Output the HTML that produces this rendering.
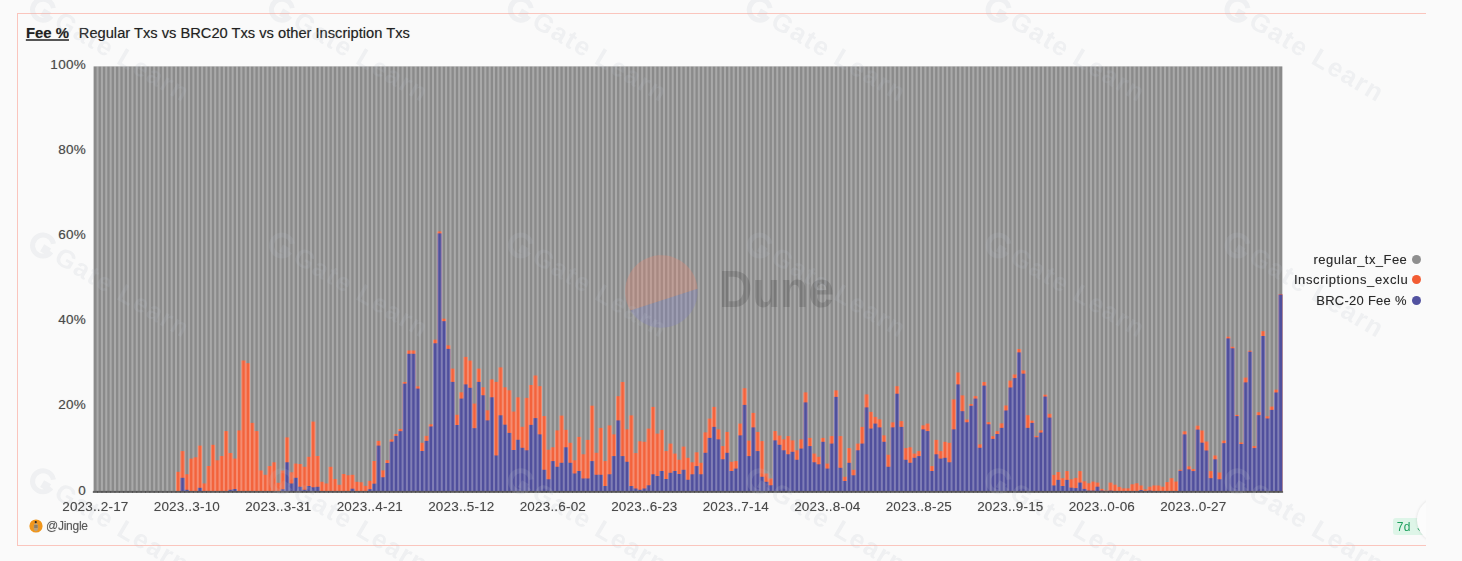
<!DOCTYPE html>
<html><head><meta charset="utf-8">
<style>
*{margin:0;padding:0;box-sizing:border-box}
html,body{width:1462px;height:561px;overflow:hidden;background:#fafafa}
body{position:relative;font-family:"Liberation Sans",sans-serif;color:#333}
.t1,.t2,.yl,.xl,.lg,.jg{text-shadow:0 0 0.8px rgba(40,40,40,0.35)}
.bt{position:absolute;left:17.1px;top:12.8px;width:1408.5px;height:1px;background:#fac5bd}
.bb{position:absolute;left:17.1px;top:545px;width:1408.5px;height:1px;background:#fac5bd}
.bl{position:absolute;left:17.1px;top:12.8px;width:1px;height:533px;background:#fac5bd}
.t1{position:absolute;left:25.9px;top:25.7px;font-size:14.9px;line-height:15px;font-weight:bold;color:#222;white-space:nowrap;text-decoration:underline;text-decoration-thickness:1.5px;text-underline-offset:1px;text-decoration-color:#555}
.t2{position:absolute;left:78.8px;top:25.7px;font-size:14.68px;line-height:15px;color:#222;white-space:nowrap}
.yl{position:absolute;left:0;width:86.1px;text-align:right;font-size:13.5px;line-height:14px;color:#4a4a4a;letter-spacing:0.3px;white-space:nowrap}
.xl{position:absolute;top:499.8px;width:100px;text-align:center;font-size:13.5px;line-height:14px;color:#4a4a4a;letter-spacing:0.18px;white-space:nowrap}
.lg{position:absolute;width:300px;text-align:right;font-size:13px;line-height:13px;color:#2a2a2a;white-space:nowrap}
.dot{position:absolute;width:9.6px;height:9.6px;border-radius:50%}
svg{position:absolute;left:0;top:0}
</style></head><body>
<div class="bt"></div><div class="bb"></div><div class="bl"></div>
<div class="t1">Fee %</div>
<div class="t2">Regular Txs vs BRC20 Txs vs other Inscription Txs</div>
<div class="yl" style="top:58px">100%</div>
<div class="yl" style="top:143.1px">80%</div>
<div class="yl" style="top:228.2px">60%</div>
<div class="yl" style="top:313.3px">40%</div>
<div class="yl" style="top:398.4px">20%</div>
<div class="yl" style="top:483.5px">0</div>
<svg width="1462" height="561" viewBox="0 0 1462 561">
<defs><filter id="bl" x="-1%" y="-1%" width="102%" height="102%"><feGaussianBlur stdDeviation="0.65"/></filter></defs>
<rect x="93.6" y="66.4" width="1188.76" height="425.2" fill="#8a8a8a"/>
<g fill="#f3633c"><rect x="175.98" y="471.8" width="4.36" height="19.8"/><rect x="179.74" y="471.8" width="1.2" height="19.8"/><rect x="180.34" y="451.1" width="4.36" height="40.5"/><rect x="184.1" y="474.3" width="1.2" height="17.3"/><rect x="184.7" y="474.3" width="4.36" height="17.3"/><rect x="188.45" y="474.3" width="1.2" height="17.3"/><rect x="189.05" y="458.6" width="4.36" height="33"/><rect x="192.81" y="458.6" width="1.2" height="33"/><rect x="193.41" y="457.3" width="4.36" height="34.3"/><rect x="197.17" y="457.3" width="1.2" height="34.3"/><rect x="197.77" y="445.6" width="4.36" height="46"/><rect x="201.53" y="483.5" width="1.2" height="8.1"/><rect x="202.12" y="483.5" width="4.36" height="8.1"/><rect x="205.88" y="483.5" width="1.2" height="8.1"/><rect x="206.48" y="466" width="4.36" height="25.6"/><rect x="210.24" y="466" width="1.2" height="25.6"/><rect x="210.84" y="444.8" width="4.36" height="46.8"/><rect x="214.6" y="460.3" width="1.2" height="31.3"/><rect x="215.2" y="460.3" width="4.36" height="31.3"/><rect x="218.95" y="460.3" width="1.2" height="31.3"/><rect x="219.55" y="456" width="4.36" height="35.6"/><rect x="223.31" y="456" width="1.2" height="35.6"/><rect x="223.91" y="431.1" width="4.36" height="60.5"/><rect x="227.67" y="453" width="1.2" height="38.6"/><rect x="228.27" y="453" width="4.36" height="38.6"/><rect x="232.02" y="458.6" width="1.2" height="33"/><rect x="232.62" y="458.6" width="4.36" height="33"/><rect x="236.38" y="458.6" width="1.2" height="33"/><rect x="236.98" y="430.4" width="4.36" height="61.2"/><rect x="240.74" y="430.4" width="1.2" height="61.2"/><rect x="241.34" y="360.5" width="4.36" height="131.1"/><rect x="245.09" y="363.2" width="1.2" height="128.4"/><rect x="245.69" y="363.2" width="4.36" height="128.4"/><rect x="249.45" y="422.9" width="1.2" height="68.7"/><rect x="250.05" y="422.9" width="4.36" height="68.7"/><rect x="253.81" y="431.1" width="1.2" height="60.5"/><rect x="254.41" y="431.1" width="4.36" height="60.5"/><rect x="258.17" y="470.5" width="1.2" height="21.1"/><rect x="258.77" y="470.5" width="4.36" height="21.1"/><rect x="262.52" y="474.8" width="1.2" height="16.8"/><rect x="263.12" y="474.8" width="4.36" height="16.8"/><rect x="266.88" y="474.8" width="1.2" height="16.8"/><rect x="267.48" y="466.1" width="4.36" height="25.5"/><rect x="271.24" y="466.1" width="1.2" height="25.5"/><rect x="271.84" y="462.3" width="4.36" height="29.3"/><rect x="275.59" y="482.8" width="1.2" height="8.8"/><rect x="276.19" y="482.8" width="4.36" height="8.8"/><rect x="279.95" y="482.8" width="1.2" height="8.8"/><rect x="280.55" y="470.5" width="4.36" height="21.1"/><rect x="284.31" y="470.5" width="1.2" height="21.1"/><rect x="284.91" y="437.4" width="4.36" height="54.2"/><rect x="288.66" y="472.3" width="1.2" height="19.3"/><rect x="289.26" y="472.3" width="4.36" height="19.3"/><rect x="293.02" y="472.3" width="1.2" height="19.3"/><rect x="293.62" y="463.6" width="4.36" height="28"/><rect x="297.38" y="464" width="1.2" height="27.6"/><rect x="297.98" y="464" width="4.36" height="27.6"/><rect x="301.74" y="466.8" width="1.2" height="24.8"/><rect x="302.34" y="466.8" width="4.36" height="24.8"/><rect x="306.09" y="466.8" width="1.2" height="24.8"/><rect x="306.69" y="456.8" width="4.36" height="34.8"/><rect x="310.45" y="456.8" width="1.2" height="34.8"/><rect x="311.05" y="421.6" width="4.36" height="70"/><rect x="314.81" y="456" width="1.2" height="35.6"/><rect x="315.41" y="456" width="4.36" height="35.6"/><rect x="319.16" y="481.8" width="1.2" height="9.8"/><rect x="319.76" y="481.8" width="4.36" height="9.8"/><rect x="323.52" y="483.5" width="1.2" height="8.1"/><rect x="324.12" y="483.5" width="4.36" height="8.1"/><rect x="327.88" y="483.5" width="1.2" height="8.1"/><rect x="328.48" y="466.8" width="4.36" height="24.8"/><rect x="332.24" y="479" width="1.2" height="12.6"/><rect x="332.84" y="479" width="4.36" height="12.6"/><rect x="336.59" y="484.8" width="1.2" height="6.8"/><rect x="337.19" y="484.8" width="4.36" height="6.8"/><rect x="340.95" y="484.8" width="1.2" height="6.8"/><rect x="341.55" y="474" width="4.36" height="17.6"/><rect x="345.31" y="475.3" width="1.2" height="16.3"/><rect x="345.91" y="475.3" width="4.36" height="16.3"/><rect x="349.66" y="475.3" width="1.2" height="16.3"/><rect x="350.26" y="474.8" width="4.36" height="16.8"/><rect x="354.02" y="481.8" width="1.2" height="9.8"/><rect x="354.62" y="481.8" width="4.36" height="9.8"/><rect x="358.38" y="482.3" width="1.2" height="9.3"/><rect x="358.98" y="482.3" width="4.36" height="9.3"/><rect x="362.73" y="485.9" width="1.2" height="5.7"/><rect x="363.33" y="485.9" width="4.36" height="5.7"/><rect x="367.09" y="485.9" width="1.2" height="5.7"/><rect x="367.69" y="480.9" width="4.36" height="10.7"/><rect x="371.45" y="480.9" width="1.2" height="10.7"/><rect x="372.05" y="461" width="4.36" height="30.6"/><rect x="375.81" y="461" width="1.2" height="30.6"/><rect x="376.41" y="440.9" width="4.36" height="50.7"/><rect x="380.16" y="470.4" width="1.2" height="21.2"/><rect x="380.76" y="470.4" width="4.36" height="21.2"/><rect x="384.52" y="470.4" width="1.2" height="21.2"/><rect x="385.12" y="460.2" width="4.36" height="31.4"/><rect x="388.88" y="460.2" width="1.2" height="31.4"/><rect x="389.48" y="439.5" width="4.36" height="52.1"/><rect x="393.23" y="439.5" width="1.2" height="52.1"/><rect x="393.83" y="434" width="4.36" height="57.6"/><rect x="397.59" y="434" width="1.2" height="57.6"/><rect x="398.19" y="429" width="4.36" height="62.6"/><rect x="401.95" y="429" width="1.2" height="62.6"/><rect x="402.55" y="382" width="4.36" height="109.6"/><rect x="406.3" y="382" width="1.2" height="109.6"/><rect x="406.9" y="350.5" width="4.36" height="141.1"/><rect x="410.66" y="350.5" width="1.2" height="141.1"/><rect x="411.26" y="350.5" width="4.36" height="141.1"/><rect x="415.02" y="386.4" width="1.2" height="105.2"/><rect x="415.62" y="386.4" width="4.36" height="105.2"/><rect x="419.38" y="442.8" width="1.2" height="48.8"/><rect x="419.98" y="442.8" width="4.36" height="48.8"/><rect x="423.73" y="442.8" width="1.2" height="48.8"/><rect x="424.33" y="435.9" width="4.36" height="55.7"/><rect x="428.09" y="435.9" width="1.2" height="55.7"/><rect x="428.69" y="424.3" width="4.36" height="67.3"/><rect x="432.45" y="424.3" width="1.2" height="67.3"/><rect x="433.05" y="339.7" width="4.36" height="151.9"/><rect x="436.8" y="339.7" width="1.2" height="151.9"/><rect x="437.4" y="231.4" width="4.36" height="260.2"/><rect x="441.16" y="318.7" width="1.2" height="172.9"/><rect x="441.76" y="318.7" width="4.36" height="172.9"/><rect x="445.52" y="345.4" width="1.2" height="146.2"/><rect x="446.12" y="345.4" width="4.36" height="146.2"/><rect x="449.87" y="368.6" width="1.2" height="123"/><rect x="450.47" y="368.6" width="4.36" height="123"/><rect x="454.23" y="414.8" width="1.2" height="76.8"/><rect x="454.83" y="414.8" width="4.36" height="76.8"/><rect x="458.59" y="414.8" width="1.2" height="76.8"/><rect x="459.19" y="392.3" width="4.36" height="99.3"/><rect x="462.94" y="392.3" width="1.2" height="99.3"/><rect x="463.55" y="356.9" width="4.36" height="134.7"/><rect x="467.3" y="360.6" width="1.2" height="131"/><rect x="467.9" y="360.6" width="4.36" height="131"/><rect x="471.66" y="403.6" width="1.2" height="88"/><rect x="472.26" y="403.6" width="4.36" height="88"/><rect x="476.02" y="403.6" width="1.2" height="88"/><rect x="476.62" y="368.6" width="4.36" height="123"/><rect x="480.37" y="387.3" width="1.2" height="104.3"/><rect x="480.97" y="387.3" width="4.36" height="104.3"/><rect x="484.73" y="410.3" width="1.2" height="81.3"/><rect x="485.33" y="410.3" width="4.36" height="81.3"/><rect x="489.09" y="410.3" width="1.2" height="81.3"/><rect x="489.69" y="379.4" width="4.36" height="112.2"/><rect x="493.44" y="381.9" width="1.2" height="109.7"/><rect x="494.04" y="381.9" width="4.36" height="109.7"/><rect x="497.8" y="381.9" width="1.2" height="109.7"/><rect x="498.4" y="367.4" width="4.36" height="124.2"/><rect x="502.16" y="387.3" width="1.2" height="104.3"/><rect x="502.76" y="387.3" width="4.36" height="104.3"/><rect x="506.51" y="390.3" width="1.2" height="101.3"/><rect x="507.12" y="390.3" width="4.36" height="101.3"/><rect x="510.87" y="411.6" width="1.2" height="80"/><rect x="511.47" y="411.6" width="4.36" height="80"/><rect x="515.23" y="411.6" width="1.2" height="80"/><rect x="515.83" y="397.3" width="4.36" height="94.3"/><rect x="519.59" y="426.8" width="1.2" height="64.8"/><rect x="520.19" y="426.8" width="4.36" height="64.8"/><rect x="523.94" y="426.8" width="1.2" height="64.8"/><rect x="524.54" y="397.9" width="4.36" height="93.7"/><rect x="528.3" y="397.9" width="1.2" height="93.7"/><rect x="528.9" y="385" width="4.36" height="106.6"/><rect x="532.66" y="385" width="1.2" height="106.6"/><rect x="533.26" y="375.5" width="4.36" height="116.1"/><rect x="537.01" y="386.2" width="1.2" height="105.4"/><rect x="537.61" y="386.2" width="4.36" height="105.4"/><rect x="541.37" y="416.1" width="1.2" height="75.5"/><rect x="541.97" y="416.1" width="4.36" height="75.5"/><rect x="545.73" y="449.8" width="1.2" height="41.8"/><rect x="546.33" y="449.8" width="4.36" height="41.8"/><rect x="550.09" y="449.8" width="1.2" height="41.8"/><rect x="550.69" y="447.3" width="4.36" height="44.3"/><rect x="554.44" y="447.3" width="1.2" height="44.3"/><rect x="555.04" y="430.4" width="4.36" height="61.2"/><rect x="558.8" y="430.4" width="1.2" height="61.2"/><rect x="559.4" y="415.6" width="4.36" height="76"/><rect x="563.16" y="429.9" width="1.2" height="61.7"/><rect x="563.76" y="429.9" width="4.36" height="61.7"/><rect x="567.51" y="442.8" width="1.2" height="48.8"/><rect x="568.11" y="442.8" width="4.36" height="48.8"/><rect x="571.87" y="460.3" width="1.2" height="31.3"/><rect x="572.47" y="460.3" width="4.36" height="31.3"/><rect x="576.23" y="460.3" width="1.2" height="31.3"/><rect x="576.83" y="436.9" width="4.36" height="54.7"/><rect x="580.58" y="454.3" width="1.2" height="37.3"/><rect x="581.18" y="454.3" width="4.36" height="37.3"/><rect x="584.94" y="454.3" width="1.2" height="37.3"/><rect x="585.54" y="439.9" width="4.36" height="51.7"/><rect x="589.3" y="439.9" width="1.2" height="51.7"/><rect x="589.9" y="405.7" width="4.36" height="85.9"/><rect x="593.65" y="452.8" width="1.2" height="38.8"/><rect x="594.25" y="452.8" width="4.36" height="38.8"/><rect x="598.01" y="452.8" width="1.2" height="38.8"/><rect x="598.61" y="427.9" width="4.36" height="63.7"/><rect x="602.37" y="461.1" width="1.2" height="30.5"/><rect x="602.97" y="461.1" width="4.36" height="30.5"/><rect x="606.73" y="461.1" width="1.2" height="30.5"/><rect x="607.33" y="425.4" width="4.36" height="66.2"/><rect x="611.08" y="434.4" width="1.2" height="57.2"/><rect x="611.68" y="434.4" width="4.36" height="57.2"/><rect x="615.44" y="434.4" width="1.2" height="57.2"/><rect x="616.04" y="396.2" width="4.36" height="95.4"/><rect x="619.8" y="396.2" width="1.2" height="95.4"/><rect x="620.4" y="382" width="4.36" height="109.6"/><rect x="624.15" y="429.4" width="1.2" height="62.2"/><rect x="624.75" y="429.4" width="4.36" height="62.2"/><rect x="628.51" y="429.4" width="1.2" height="62.2"/><rect x="629.11" y="415.4" width="4.36" height="76.2"/><rect x="632.87" y="453.1" width="1.2" height="38.5"/><rect x="633.47" y="453.1" width="4.36" height="38.5"/><rect x="637.23" y="453.1" width="1.2" height="38.5"/><rect x="637.83" y="441.3" width="4.36" height="50.3"/><rect x="641.58" y="441.8" width="1.2" height="49.8"/><rect x="642.18" y="441.8" width="4.36" height="49.8"/><rect x="645.94" y="441.8" width="1.2" height="49.8"/><rect x="646.54" y="428.6" width="4.36" height="63"/><rect x="650.3" y="428.6" width="1.2" height="63"/><rect x="650.9" y="406.9" width="4.36" height="84.7"/><rect x="654.65" y="433.6" width="1.2" height="58"/><rect x="655.25" y="433.6" width="4.36" height="58"/><rect x="659.01" y="433.6" width="1.2" height="58"/><rect x="659.61" y="429.9" width="4.36" height="61.7"/><rect x="663.37" y="451.1" width="1.2" height="40.5"/><rect x="663.97" y="451.1" width="4.36" height="40.5"/><rect x="667.72" y="451.1" width="1.2" height="40.5"/><rect x="668.32" y="443.6" width="4.36" height="48"/><rect x="672.08" y="453.6" width="1.2" height="38"/><rect x="672.68" y="453.6" width="4.36" height="38"/><rect x="676.44" y="459.8" width="1.2" height="31.8"/><rect x="677.04" y="459.8" width="4.36" height="31.8"/><rect x="680.8" y="459.8" width="1.2" height="31.8"/><rect x="681.4" y="446.6" width="4.36" height="45"/><rect x="685.15" y="457.8" width="1.2" height="33.8"/><rect x="685.75" y="457.8" width="4.36" height="33.8"/><rect x="689.51" y="462.3" width="1.2" height="29.3"/><rect x="690.11" y="462.3" width="4.36" height="29.3"/><rect x="693.87" y="462.3" width="1.2" height="29.3"/><rect x="694.47" y="452.3" width="4.36" height="39.3"/><rect x="698.22" y="462.8" width="1.2" height="28.8"/><rect x="698.82" y="462.8" width="4.36" height="28.8"/><rect x="702.58" y="462.8" width="1.2" height="28.8"/><rect x="703.18" y="432.4" width="4.36" height="59.2"/><rect x="706.94" y="432.4" width="1.2" height="59.2"/><rect x="707.54" y="418.6" width="4.36" height="73"/><rect x="711.29" y="418.6" width="1.2" height="73"/><rect x="711.89" y="406.9" width="4.36" height="84.7"/><rect x="715.65" y="429.4" width="1.2" height="62.2"/><rect x="716.25" y="429.4" width="4.36" height="62.2"/><rect x="720.01" y="446.1" width="1.2" height="45.5"/><rect x="720.61" y="446.1" width="4.36" height="45.5"/><rect x="724.37" y="446.1" width="1.2" height="45.5"/><rect x="724.97" y="431.9" width="4.36" height="59.7"/><rect x="728.72" y="461.8" width="1.2" height="29.8"/><rect x="729.32" y="461.8" width="4.36" height="29.8"/><rect x="733.08" y="461.8" width="1.2" height="29.8"/><rect x="733.68" y="461.1" width="4.36" height="30.5"/><rect x="737.44" y="461.1" width="1.2" height="30.5"/><rect x="738.04" y="423.6" width="4.36" height="68"/><rect x="741.79" y="423.6" width="1.2" height="68"/><rect x="742.39" y="388.2" width="4.36" height="103.4"/><rect x="746.15" y="440.6" width="1.2" height="51"/><rect x="746.75" y="440.6" width="4.36" height="51"/><rect x="750.51" y="440.6" width="1.2" height="51"/><rect x="751.11" y="412.9" width="4.36" height="78.7"/><rect x="754.86" y="431.9" width="1.2" height="59.7"/><rect x="755.46" y="431.9" width="4.36" height="59.7"/><rect x="759.22" y="441.1" width="1.2" height="50.5"/><rect x="759.82" y="441.1" width="4.36" height="50.5"/><rect x="763.58" y="473.5" width="1.2" height="18.1"/><rect x="764.18" y="473.5" width="4.36" height="18.1"/><rect x="767.94" y="478.5" width="1.2" height="13.1"/><rect x="768.54" y="478.5" width="4.36" height="13.1"/><rect x="772.29" y="478.5" width="1.2" height="13.1"/><rect x="772.89" y="431.1" width="4.36" height="60.5"/><rect x="776.65" y="435.6" width="1.2" height="56"/><rect x="777.25" y="435.6" width="4.36" height="56"/><rect x="781.01" y="439.4" width="1.2" height="52.2"/><rect x="781.61" y="439.4" width="4.36" height="52.2"/><rect x="785.36" y="439.4" width="1.2" height="52.2"/><rect x="785.96" y="436.1" width="4.36" height="55.5"/><rect x="789.72" y="440.4" width="1.2" height="51.2"/><rect x="790.32" y="440.4" width="4.36" height="51.2"/><rect x="794.08" y="450.3" width="1.2" height="41.3"/><rect x="794.68" y="450.3" width="4.36" height="41.3"/><rect x="798.43" y="450.3" width="1.2" height="41.3"/><rect x="799.03" y="439.4" width="4.36" height="52.2"/><rect x="802.79" y="439.4" width="1.2" height="52.2"/><rect x="803.39" y="392.4" width="4.36" height="99.2"/><rect x="807.15" y="437.9" width="1.2" height="53.7"/><rect x="807.75" y="437.9" width="4.36" height="53.7"/><rect x="811.51" y="453.6" width="1.2" height="38"/><rect x="812.11" y="453.6" width="4.36" height="38"/><rect x="815.86" y="456.8" width="1.2" height="34.8"/><rect x="816.46" y="456.8" width="4.36" height="34.8"/><rect x="820.22" y="456.8" width="1.2" height="34.8"/><rect x="820.82" y="437.9" width="4.36" height="53.7"/><rect x="824.58" y="463.6" width="1.2" height="28"/><rect x="825.18" y="463.6" width="4.36" height="28"/><rect x="828.93" y="463.6" width="1.2" height="28"/><rect x="829.53" y="436.1" width="4.36" height="55.5"/><rect x="833.29" y="436.1" width="1.2" height="55.5"/><rect x="833.89" y="390.4" width="4.36" height="101.2"/><rect x="837.65" y="436.1" width="1.2" height="55.5"/><rect x="838.25" y="436.1" width="4.36" height="55.5"/><rect x="842" y="476.8" width="1.2" height="14.8"/><rect x="842.6" y="476.8" width="4.36" height="14.8"/><rect x="846.36" y="476.8" width="1.2" height="14.8"/><rect x="846.96" y="448.1" width="4.36" height="43.5"/><rect x="850.72" y="469.8" width="1.2" height="21.8"/><rect x="851.32" y="469.8" width="4.36" height="21.8"/><rect x="855.08" y="469.8" width="1.2" height="21.8"/><rect x="855.68" y="443.6" width="4.36" height="48"/><rect x="859.43" y="443.6" width="1.2" height="48"/><rect x="860.03" y="426.9" width="4.36" height="64.7"/><rect x="863.79" y="426.9" width="1.2" height="64.7"/><rect x="864.39" y="394.4" width="4.36" height="97.2"/><rect x="868.15" y="411.9" width="1.2" height="79.7"/><rect x="868.75" y="411.9" width="4.36" height="79.7"/><rect x="872.5" y="416.9" width="1.2" height="74.7"/><rect x="873.1" y="416.9" width="4.36" height="74.7"/><rect x="876.86" y="419.4" width="1.2" height="72.2"/><rect x="877.46" y="419.4" width="4.36" height="72.2"/><rect x="881.22" y="435.4" width="1.2" height="56.2"/><rect x="881.82" y="435.4" width="4.36" height="56.2"/><rect x="885.57" y="454.8" width="1.2" height="36.8"/><rect x="886.17" y="454.8" width="4.36" height="36.8"/><rect x="889.93" y="454.8" width="1.2" height="36.8"/><rect x="890.53" y="422.4" width="4.36" height="69.2"/><rect x="894.29" y="422.4" width="1.2" height="69.2"/><rect x="894.89" y="386.2" width="4.36" height="105.4"/><rect x="898.65" y="421.1" width="1.2" height="70.5"/><rect x="899.25" y="421.1" width="4.36" height="70.5"/><rect x="903" y="448.1" width="1.2" height="43.5"/><rect x="903.6" y="448.1" width="4.36" height="43.5"/><rect x="907.36" y="448.1" width="1.2" height="43.5"/><rect x="907.96" y="447.3" width="4.36" height="44.3"/><rect x="911.72" y="453.6" width="1.2" height="38"/><rect x="912.32" y="453.6" width="4.36" height="38"/><rect x="916.07" y="453.6" width="1.2" height="38"/><rect x="916.67" y="451.1" width="4.36" height="40.5"/><rect x="920.43" y="451.1" width="1.2" height="40.5"/><rect x="921.03" y="425.4" width="4.36" height="66.2"/><rect x="924.79" y="425.4" width="1.2" height="66.2"/><rect x="925.39" y="423.6" width="4.36" height="68"/><rect x="929.14" y="466.1" width="1.2" height="25.5"/><rect x="929.74" y="466.1" width="4.36" height="25.5"/><rect x="933.5" y="466.1" width="1.2" height="25.5"/><rect x="934.1" y="439.9" width="4.36" height="51.7"/><rect x="937.86" y="451.1" width="1.2" height="40.5"/><rect x="938.46" y="451.1" width="4.36" height="40.5"/><rect x="942.22" y="451.1" width="1.2" height="40.5"/><rect x="942.82" y="441.8" width="4.36" height="49.8"/><rect x="946.57" y="442.8" width="1.2" height="48.8"/><rect x="947.17" y="442.8" width="4.36" height="48.8"/><rect x="950.93" y="442.8" width="1.2" height="48.8"/><rect x="951.53" y="399.4" width="4.36" height="92.2"/><rect x="955.29" y="399.4" width="1.2" height="92.2"/><rect x="955.89" y="372.5" width="4.36" height="119.1"/><rect x="959.64" y="395.4" width="1.2" height="96.2"/><rect x="960.24" y="395.4" width="4.36" height="96.2"/><rect x="964" y="419.6" width="1.2" height="72"/><rect x="964.6" y="419.6" width="4.36" height="72"/><rect x="968.36" y="419.6" width="1.2" height="72"/><rect x="968.96" y="404.1" width="4.36" height="87.5"/><rect x="972.71" y="404.1" width="1.2" height="87.5"/><rect x="973.31" y="396.1" width="4.36" height="95.5"/><rect x="977.07" y="444.4" width="1.2" height="47.2"/><rect x="977.67" y="444.4" width="4.36" height="47.2"/><rect x="981.43" y="444.4" width="1.2" height="47.2"/><rect x="982.03" y="382" width="4.36" height="109.6"/><rect x="985.79" y="422.1" width="1.2" height="69.5"/><rect x="986.39" y="422.1" width="4.36" height="69.5"/><rect x="990.14" y="436.2" width="1.2" height="55.4"/><rect x="990.74" y="436.2" width="4.36" height="55.4"/><rect x="994.5" y="436.2" width="1.2" height="55.4"/><rect x="995.1" y="431.2" width="4.36" height="60.4"/><rect x="998.86" y="431.2" width="1.2" height="60.4"/><rect x="999.46" y="423.4" width="4.36" height="68.2"/><rect x="1003.21" y="423.4" width="1.2" height="68.2"/><rect x="1003.81" y="405.5" width="4.36" height="86.1"/><rect x="1007.57" y="405.5" width="1.2" height="86.1"/><rect x="1008.17" y="380.6" width="4.36" height="111"/><rect x="1011.93" y="380.6" width="1.2" height="111"/><rect x="1012.53" y="374.5" width="4.36" height="117.1"/><rect x="1016.28" y="374.5" width="1.2" height="117.1"/><rect x="1016.88" y="349.1" width="4.36" height="142.5"/><rect x="1020.64" y="370.4" width="1.2" height="121.2"/><rect x="1021.24" y="370.4" width="4.36" height="121.2"/><rect x="1025" y="415.2" width="1.2" height="76.4"/><rect x="1025.6" y="415.2" width="4.36" height="76.4"/><rect x="1029.36" y="420.7" width="1.2" height="70.9"/><rect x="1029.95" y="420.7" width="4.36" height="70.9"/><rect x="1033.71" y="435.9" width="1.2" height="55.7"/><rect x="1034.31" y="435.9" width="4.36" height="55.7"/><rect x="1038.07" y="435.9" width="1.2" height="55.7"/><rect x="1038.67" y="430.4" width="4.36" height="61.2"/><rect x="1042.43" y="430.4" width="1.2" height="61.2"/><rect x="1043.03" y="394.7" width="4.36" height="96.9"/><rect x="1046.78" y="413.8" width="1.2" height="77.8"/><rect x="1047.38" y="413.8" width="4.36" height="77.8"/><rect x="1051.14" y="474.9" width="1.2" height="16.7"/><rect x="1051.74" y="474.9" width="4.36" height="16.7"/><rect x="1055.5" y="474.9" width="1.2" height="16.7"/><rect x="1056.1" y="472" width="4.36" height="19.6"/><rect x="1059.85" y="478.2" width="1.2" height="13.4"/><rect x="1060.45" y="478.2" width="4.36" height="13.4"/><rect x="1064.21" y="478.2" width="1.2" height="13.4"/><rect x="1064.81" y="471.1" width="4.36" height="20.5"/><rect x="1068.57" y="479.3" width="1.2" height="12.3"/><rect x="1069.17" y="479.3" width="4.36" height="12.3"/><rect x="1072.93" y="479.3" width="1.2" height="12.3"/><rect x="1073.53" y="477.9" width="4.36" height="13.7"/><rect x="1077.28" y="477.9" width="1.2" height="13.7"/><rect x="1077.88" y="471.1" width="4.36" height="20.5"/><rect x="1081.64" y="481.3" width="1.2" height="10.3"/><rect x="1082.24" y="481.3" width="4.36" height="10.3"/><rect x="1086" y="483.3" width="1.2" height="8.3"/><rect x="1086.6" y="483.3" width="4.36" height="8.3"/><rect x="1090.35" y="483.3" width="1.2" height="8.3"/><rect x="1090.95" y="481.6" width="4.36" height="10"/><rect x="1094.71" y="482.6" width="1.2" height="9"/><rect x="1095.31" y="482.6" width="4.36" height="9"/><rect x="1099.07" y="488.9" width="1.2" height="2.7"/><rect x="1099.67" y="488.9" width="4.36" height="2.7"/><rect x="1103.42" y="490.6" width="1.2" height="1"/><rect x="1104.02" y="490.6" width="4.36" height="1"/><rect x="1107.78" y="490.6" width="1.2" height="1"/><rect x="1108.38" y="482.6" width="4.36" height="9"/><rect x="1112.14" y="484.7" width="1.2" height="6.9"/><rect x="1112.74" y="484.7" width="4.36" height="6.9"/><rect x="1116.5" y="486.9" width="1.2" height="4.7"/><rect x="1117.1" y="486.9" width="4.36" height="4.7"/><rect x="1120.85" y="488.4" width="1.2" height="3.2"/><rect x="1121.45" y="488.4" width="4.36" height="3.2"/><rect x="1125.21" y="488.4" width="1.2" height="3.2"/><rect x="1125.81" y="488.4" width="4.36" height="3.2"/><rect x="1129.57" y="488.4" width="1.2" height="3.2"/><rect x="1130.17" y="484.3" width="4.36" height="7.3"/><rect x="1133.92" y="484.3" width="1.2" height="7.3"/><rect x="1134.52" y="483.3" width="4.36" height="8.3"/><rect x="1138.28" y="485.5" width="1.2" height="6.1"/><rect x="1138.88" y="485.5" width="4.36" height="6.1"/><rect x="1142.64" y="489.4" width="1.2" height="2.2"/><rect x="1143.24" y="489.4" width="4.36" height="2.2"/><rect x="1146.99" y="489.4" width="1.2" height="2.2"/><rect x="1147.59" y="486.7" width="4.36" height="4.9"/><rect x="1151.35" y="486.7" width="1.2" height="4.9"/><rect x="1151.95" y="485.5" width="4.36" height="6.1"/><rect x="1155.71" y="485.5" width="1.2" height="6.1"/><rect x="1156.31" y="485.5" width="4.36" height="6.1"/><rect x="1160.07" y="486.7" width="1.2" height="4.9"/><rect x="1160.67" y="486.7" width="4.36" height="4.9"/><rect x="1164.42" y="486.7" width="1.2" height="4.9"/><rect x="1165.02" y="482.1" width="4.36" height="9.5"/><rect x="1168.78" y="482.1" width="1.2" height="9.5"/><rect x="1169.38" y="478.2" width="4.36" height="13.4"/><rect x="1173.14" y="481.6" width="1.2" height="10"/><rect x="1173.74" y="481.6" width="4.36" height="10"/><rect x="1177.49" y="481.6" width="1.2" height="10"/><rect x="1178.09" y="469.8" width="4.36" height="21.8"/><rect x="1181.85" y="469.8" width="1.2" height="21.8"/><rect x="1182.45" y="431.3" width="4.36" height="60.3"/><rect x="1186.21" y="466.4" width="1.2" height="25.2"/><rect x="1186.81" y="466.4" width="4.36" height="25.2"/><rect x="1190.56" y="469.1" width="1.2" height="22.5"/><rect x="1191.16" y="469.1" width="4.36" height="22.5"/><rect x="1194.92" y="469.1" width="1.2" height="22.5"/><rect x="1195.52" y="425.7" width="4.36" height="65.9"/><rect x="1199.28" y="430.5" width="1.2" height="61.1"/><rect x="1199.88" y="430.5" width="4.36" height="61.1"/><rect x="1203.64" y="441.5" width="1.2" height="50.1"/><rect x="1204.24" y="441.5" width="4.36" height="50.1"/><rect x="1207.99" y="471.1" width="1.2" height="20.5"/><rect x="1208.59" y="471.1" width="4.36" height="20.5"/><rect x="1212.35" y="471.1" width="1.2" height="20.5"/><rect x="1212.95" y="455.5" width="4.36" height="36.1"/><rect x="1216.71" y="472.5" width="1.2" height="19.1"/><rect x="1217.31" y="472.5" width="4.36" height="19.1"/><rect x="1221.06" y="472.5" width="1.2" height="19.1"/><rect x="1221.66" y="440.6" width="4.36" height="51"/><rect x="1225.42" y="440.6" width="1.2" height="51"/><rect x="1226.02" y="336.7" width="4.36" height="154.9"/><rect x="1229.78" y="346.8" width="1.2" height="144.8"/><rect x="1230.38" y="346.8" width="4.36" height="144.8"/><rect x="1234.13" y="414.9" width="1.2" height="76.7"/><rect x="1234.73" y="414.9" width="4.36" height="76.7"/><rect x="1238.49" y="442.5" width="1.2" height="49.1"/><rect x="1239.09" y="442.5" width="4.36" height="49.1"/><rect x="1242.85" y="442.5" width="1.2" height="49.1"/><rect x="1243.45" y="377.6" width="4.36" height="114"/><rect x="1247.21" y="377.6" width="1.2" height="114"/><rect x="1247.81" y="350.7" width="4.36" height="140.9"/><rect x="1251.56" y="446" width="1.2" height="45.6"/><rect x="1252.16" y="446" width="4.36" height="45.6"/><rect x="1255.92" y="446" width="1.2" height="45.6"/><rect x="1256.52" y="412.2" width="4.36" height="79.4"/><rect x="1260.28" y="412.2" width="1.2" height="79.4"/><rect x="1260.88" y="331.2" width="4.36" height="160.4"/><rect x="1264.63" y="416.3" width="1.2" height="75.3"/><rect x="1265.23" y="416.3" width="4.36" height="75.3"/><rect x="1268.99" y="416.3" width="1.2" height="75.3"/><rect x="1269.59" y="406.6" width="4.36" height="85"/><rect x="1273.35" y="406.6" width="1.2" height="85"/><rect x="1273.95" y="389.7" width="4.36" height="101.9"/><rect x="1277.7" y="389.7" width="1.2" height="101.9"/><rect x="1278.3" y="294.1" width="4.06" height="197.5"/></g>
<g fill="#504f9c"><rect x="175.98" y="491.5" width="4.36" height="0.1"/><rect x="179.74" y="491.5" width="1.2" height="0.1"/><rect x="180.34" y="477.8" width="4.36" height="13.8"/><rect x="184.1" y="489.8" width="1.2" height="1.8"/><rect x="184.7" y="489.8" width="4.36" height="1.8"/><rect x="188.45" y="491" width="1.2" height="0.6"/><rect x="189.05" y="491" width="4.36" height="0.6"/><rect x="192.81" y="491.5" width="1.2" height="0.1"/><rect x="193.41" y="491.5" width="4.36" height="0.1"/><rect x="197.17" y="491.5" width="1.2" height="0.1"/><rect x="197.77" y="487.8" width="4.36" height="3.8"/><rect x="201.53" y="491" width="1.2" height="0.6"/><rect x="202.12" y="491" width="4.36" height="0.6"/><rect x="205.88" y="491.5" width="1.2" height="0.1"/><rect x="206.48" y="491.5" width="4.36" height="0.1"/><rect x="210.24" y="491.5" width="1.2" height="0.1"/><rect x="210.84" y="491.5" width="4.36" height="0.1"/><rect x="214.6" y="491.5" width="1.2" height="0.1"/><rect x="215.2" y="491.5" width="4.36" height="0.1"/><rect x="218.95" y="491.5" width="1.2" height="0.1"/><rect x="219.55" y="491.5" width="4.36" height="0.1"/><rect x="223.31" y="491.5" width="1.2" height="0.1"/><rect x="223.91" y="491.5" width="4.36" height="0.1"/><rect x="227.67" y="491.5" width="1.2" height="0.1"/><rect x="228.27" y="489.8" width="4.36" height="1.8"/><rect x="232.02" y="489.8" width="1.2" height="1.8"/><rect x="232.62" y="489" width="4.36" height="2.6"/><rect x="236.38" y="491.5" width="1.2" height="0.1"/><rect x="236.98" y="491.5" width="4.36" height="0.1"/><rect x="240.74" y="491.5" width="1.2" height="0.1"/><rect x="241.34" y="491.5" width="4.36" height="0.1"/><rect x="245.09" y="491.5" width="1.2" height="0.1"/><rect x="245.69" y="491.5" width="4.36" height="0.1"/><rect x="249.45" y="491.5" width="1.2" height="0.1"/><rect x="250.05" y="491.5" width="4.36" height="0.1"/><rect x="253.81" y="491.5" width="1.2" height="0.1"/><rect x="254.41" y="491.5" width="4.36" height="0.1"/><rect x="258.17" y="491.5" width="1.2" height="0.1"/><rect x="258.77" y="491.5" width="4.36" height="0.1"/><rect x="262.52" y="491.5" width="1.2" height="0.1"/><rect x="263.12" y="491.5" width="4.36" height="0.1"/><rect x="266.88" y="491.5" width="1.2" height="0.1"/><rect x="267.48" y="491.5" width="4.36" height="0.1"/><rect x="271.24" y="491.5" width="1.2" height="0.1"/><rect x="271.84" y="491.5" width="4.36" height="0.1"/><rect x="275.59" y="491.5" width="1.2" height="0.1"/><rect x="276.19" y="491.5" width="4.36" height="0.1"/><rect x="279.95" y="491.5" width="1.2" height="0.1"/><rect x="280.55" y="489.3" width="4.36" height="2.3"/><rect x="284.31" y="489.3" width="1.2" height="2.3"/><rect x="284.91" y="462.3" width="4.36" height="29.3"/><rect x="288.66" y="483.5" width="1.2" height="8.1"/><rect x="289.26" y="483.5" width="4.36" height="8.1"/><rect x="293.02" y="483.5" width="1.2" height="8.1"/><rect x="293.62" y="477.8" width="4.36" height="13.8"/><rect x="297.38" y="486.8" width="1.2" height="4.8"/><rect x="297.98" y="486.8" width="4.36" height="4.8"/><rect x="301.74" y="489.8" width="1.2" height="1.8"/><rect x="302.34" y="489.8" width="4.36" height="1.8"/><rect x="306.09" y="489.8" width="1.2" height="1.8"/><rect x="306.69" y="486" width="4.36" height="5.6"/><rect x="310.45" y="487.3" width="1.2" height="4.3"/><rect x="311.05" y="487.3" width="4.36" height="4.3"/><rect x="314.81" y="487.3" width="1.2" height="4.3"/><rect x="315.41" y="486.8" width="4.36" height="4.8"/><rect x="319.16" y="491" width="1.2" height="0.6"/><rect x="319.76" y="491" width="4.36" height="0.6"/><rect x="323.52" y="491.5" width="1.2" height="0.1"/><rect x="324.12" y="491.5" width="4.36" height="0.1"/><rect x="327.88" y="491.5" width="1.2" height="0.1"/><rect x="328.48" y="491" width="4.36" height="0.6"/><rect x="332.24" y="491.5" width="1.2" height="0.1"/><rect x="332.84" y="491.5" width="4.36" height="0.1"/><rect x="336.59" y="491.5" width="1.2" height="0.1"/><rect x="337.19" y="491.5" width="4.36" height="0.1"/><rect x="340.95" y="491.5" width="1.2" height="0.1"/><rect x="341.55" y="491.5" width="4.36" height="0.1"/><rect x="345.31" y="491.5" width="1.2" height="0.1"/><rect x="345.91" y="491.5" width="4.36" height="0.1"/><rect x="349.66" y="491.5" width="1.2" height="0.1"/><rect x="350.26" y="488.7" width="4.36" height="2.9"/><rect x="354.02" y="491" width="1.2" height="0.6"/><rect x="354.62" y="491" width="4.36" height="0.6"/><rect x="358.38" y="491.5" width="1.2" height="0.1"/><rect x="358.98" y="491.5" width="4.36" height="0.1"/><rect x="362.73" y="491.5" width="1.2" height="0.1"/><rect x="363.33" y="491.5" width="4.36" height="0.1"/><rect x="367.09" y="491.5" width="1.2" height="0.1"/><rect x="367.69" y="489.2" width="4.36" height="2.4"/><rect x="371.45" y="489.2" width="1.2" height="2.4"/><rect x="372.05" y="483.7" width="4.36" height="7.9"/><rect x="375.81" y="483.7" width="1.2" height="7.9"/><rect x="376.41" y="445.6" width="4.36" height="46"/><rect x="380.16" y="477.3" width="1.2" height="14.3"/><rect x="380.76" y="477.3" width="4.36" height="14.3"/><rect x="384.52" y="477.3" width="1.2" height="14.3"/><rect x="385.12" y="463" width="4.36" height="28.6"/><rect x="388.88" y="463" width="1.2" height="28.6"/><rect x="389.48" y="441.7" width="4.36" height="49.9"/><rect x="393.23" y="441.7" width="1.2" height="49.9"/><rect x="393.83" y="435.9" width="4.36" height="55.7"/><rect x="397.59" y="435.9" width="1.2" height="55.7"/><rect x="398.19" y="431.2" width="4.36" height="60.4"/><rect x="401.95" y="431.2" width="1.2" height="60.4"/><rect x="402.55" y="383.7" width="4.36" height="107.9"/><rect x="406.3" y="383.7" width="1.2" height="107.9"/><rect x="406.9" y="353.8" width="4.36" height="137.8"/><rect x="410.66" y="353.8" width="1.2" height="137.8"/><rect x="411.26" y="353.8" width="4.36" height="137.8"/><rect x="415.02" y="388.6" width="1.2" height="103"/><rect x="415.62" y="388.6" width="4.36" height="103"/><rect x="419.38" y="451" width="1.2" height="40.6"/><rect x="419.98" y="451" width="4.36" height="40.6"/><rect x="423.73" y="451" width="1.2" height="40.6"/><rect x="424.33" y="440.9" width="4.36" height="50.7"/><rect x="428.09" y="440.9" width="1.2" height="50.7"/><rect x="428.69" y="426.5" width="4.36" height="65.1"/><rect x="432.45" y="426.5" width="1.2" height="65.1"/><rect x="433.05" y="343.3" width="4.36" height="148.3"/><rect x="436.8" y="343.3" width="1.2" height="148.3"/><rect x="437.4" y="233.4" width="4.36" height="258.2"/><rect x="441.16" y="321.2" width="1.2" height="170.4"/><rect x="441.76" y="321.2" width="4.36" height="170.4"/><rect x="445.52" y="348.9" width="1.2" height="142.7"/><rect x="446.12" y="348.9" width="4.36" height="142.7"/><rect x="449.87" y="381.9" width="1.2" height="109.7"/><rect x="450.47" y="381.9" width="4.36" height="109.7"/><rect x="454.23" y="425" width="1.2" height="66.6"/><rect x="454.83" y="425" width="4.36" height="66.6"/><rect x="458.59" y="425" width="1.2" height="66.6"/><rect x="459.19" y="398.6" width="4.36" height="93"/><rect x="462.94" y="398.6" width="1.2" height="93"/><rect x="463.55" y="384.4" width="4.36" height="107.2"/><rect x="467.3" y="387.8" width="1.2" height="103.8"/><rect x="467.9" y="387.8" width="4.36" height="103.8"/><rect x="471.66" y="428.2" width="1.2" height="63.4"/><rect x="472.26" y="428.2" width="4.36" height="63.4"/><rect x="476.02" y="428.2" width="1.2" height="63.4"/><rect x="476.62" y="381.9" width="4.36" height="109.7"/><rect x="480.37" y="395.3" width="1.2" height="96.3"/><rect x="480.97" y="395.3" width="4.36" height="96.3"/><rect x="484.73" y="420.4" width="1.2" height="71.2"/><rect x="485.33" y="420.4" width="4.36" height="71.2"/><rect x="489.09" y="420.4" width="1.2" height="71.2"/><rect x="489.69" y="397.3" width="4.36" height="94.3"/><rect x="493.44" y="455.5" width="1.2" height="36.1"/><rect x="494.04" y="455.5" width="4.36" height="36.1"/><rect x="497.8" y="455.5" width="1.2" height="36.1"/><rect x="498.4" y="415.3" width="4.36" height="76.3"/><rect x="502.16" y="424.7" width="1.2" height="66.9"/><rect x="502.76" y="424.7" width="4.36" height="66.9"/><rect x="506.51" y="432.9" width="1.2" height="58.7"/><rect x="507.12" y="432.9" width="4.36" height="58.7"/><rect x="510.87" y="450" width="1.2" height="41.6"/><rect x="511.47" y="450" width="4.36" height="41.6"/><rect x="515.23" y="450" width="1.2" height="41.6"/><rect x="515.83" y="439.8" width="4.36" height="51.8"/><rect x="519.59" y="447.8" width="1.2" height="43.8"/><rect x="520.19" y="447.8" width="4.36" height="43.8"/><rect x="523.94" y="450.3" width="1.2" height="41.3"/><rect x="524.54" y="450.3" width="4.36" height="41.3"/><rect x="528.3" y="450.3" width="1.2" height="41.3"/><rect x="528.9" y="424.9" width="4.36" height="66.7"/><rect x="532.66" y="424.9" width="1.2" height="66.7"/><rect x="533.26" y="418.1" width="4.36" height="73.5"/><rect x="537.01" y="434.4" width="1.2" height="57.2"/><rect x="537.61" y="434.4" width="4.36" height="57.2"/><rect x="541.37" y="469.8" width="1.2" height="21.8"/><rect x="541.97" y="469.8" width="4.36" height="21.8"/><rect x="545.73" y="479.3" width="1.2" height="12.3"/><rect x="546.33" y="479.3" width="4.36" height="12.3"/><rect x="550.09" y="479.3" width="1.2" height="12.3"/><rect x="550.69" y="461.1" width="4.36" height="30.5"/><rect x="554.44" y="466.8" width="1.2" height="24.8"/><rect x="555.04" y="466.8" width="4.36" height="24.8"/><rect x="558.8" y="466.8" width="1.2" height="24.8"/><rect x="559.4" y="462.8" width="4.36" height="28.8"/><rect x="563.16" y="462.8" width="1.2" height="28.8"/><rect x="563.76" y="447.3" width="4.36" height="44.3"/><rect x="567.51" y="462.8" width="1.2" height="28.8"/><rect x="568.11" y="462.8" width="4.36" height="28.8"/><rect x="571.87" y="473.5" width="1.2" height="18.1"/><rect x="572.47" y="473.5" width="4.36" height="18.1"/><rect x="576.23" y="473.5" width="1.2" height="18.1"/><rect x="576.83" y="471" width="4.36" height="20.6"/><rect x="580.58" y="478.5" width="1.2" height="13.1"/><rect x="581.18" y="478.5" width="4.36" height="13.1"/><rect x="584.94" y="478.5" width="1.2" height="13.1"/><rect x="585.54" y="478.5" width="4.36" height="13.1"/><rect x="589.3" y="478.5" width="1.2" height="13.1"/><rect x="589.9" y="461.1" width="4.36" height="30.5"/><rect x="593.65" y="474.8" width="1.2" height="16.8"/><rect x="594.25" y="474.8" width="4.36" height="16.8"/><rect x="598.01" y="474.8" width="1.2" height="16.8"/><rect x="598.61" y="474.8" width="4.36" height="16.8"/><rect x="602.37" y="486" width="1.2" height="5.6"/><rect x="602.97" y="486" width="4.36" height="5.6"/><rect x="606.73" y="486" width="1.2" height="5.6"/><rect x="607.33" y="474.3" width="4.36" height="17.3"/><rect x="611.08" y="474.3" width="1.2" height="17.3"/><rect x="611.68" y="456.1" width="4.36" height="35.5"/><rect x="615.44" y="456.1" width="1.2" height="35.5"/><rect x="616.04" y="420.4" width="4.36" height="71.2"/><rect x="619.8" y="456.1" width="1.2" height="35.5"/><rect x="620.4" y="456.1" width="4.36" height="35.5"/><rect x="624.15" y="461.8" width="1.2" height="29.8"/><rect x="624.75" y="461.8" width="4.36" height="29.8"/><rect x="628.51" y="486" width="1.2" height="5.6"/><rect x="629.11" y="486" width="4.36" height="5.6"/><rect x="632.87" y="488.5" width="1.2" height="3.1"/><rect x="633.47" y="488.5" width="4.36" height="3.1"/><rect x="637.23" y="489.8" width="1.2" height="1.8"/><rect x="637.83" y="489.8" width="4.36" height="1.8"/><rect x="641.58" y="489.8" width="1.2" height="1.8"/><rect x="642.18" y="488.5" width="4.36" height="3.1"/><rect x="645.94" y="488.5" width="1.2" height="3.1"/><rect x="646.54" y="485.3" width="4.36" height="6.3"/><rect x="650.3" y="485.3" width="1.2" height="6.3"/><rect x="650.9" y="474.3" width="4.36" height="17.3"/><rect x="654.65" y="476" width="1.2" height="15.6"/><rect x="655.25" y="476" width="4.36" height="15.6"/><rect x="659.01" y="476" width="1.2" height="15.6"/><rect x="659.61" y="471" width="4.36" height="20.6"/><rect x="663.37" y="479" width="1.2" height="12.6"/><rect x="663.97" y="479" width="4.36" height="12.6"/><rect x="667.72" y="479" width="1.2" height="12.6"/><rect x="668.32" y="472.8" width="4.36" height="18.8"/><rect x="672.08" y="472.8" width="1.2" height="18.8"/><rect x="672.68" y="471" width="4.36" height="20.6"/><rect x="676.44" y="474" width="1.2" height="17.6"/><rect x="677.04" y="474" width="4.36" height="17.6"/><rect x="680.8" y="474" width="1.2" height="17.6"/><rect x="681.4" y="469.8" width="4.36" height="21.8"/><rect x="685.15" y="479.8" width="1.2" height="11.8"/><rect x="685.75" y="479.8" width="4.36" height="11.8"/><rect x="689.51" y="479.8" width="1.2" height="11.8"/><rect x="690.11" y="474.3" width="4.36" height="17.3"/><rect x="693.87" y="474.3" width="1.2" height="17.3"/><rect x="694.47" y="466.1" width="4.36" height="25.5"/><rect x="698.22" y="474.3" width="1.2" height="17.3"/><rect x="698.82" y="474.3" width="4.36" height="17.3"/><rect x="702.58" y="474.3" width="1.2" height="17.3"/><rect x="703.18" y="452.8" width="4.36" height="38.8"/><rect x="706.94" y="452.8" width="1.2" height="38.8"/><rect x="707.54" y="437.9" width="4.36" height="53.7"/><rect x="711.29" y="437.9" width="1.2" height="53.7"/><rect x="711.89" y="426.9" width="4.36" height="64.7"/><rect x="715.65" y="439.4" width="1.2" height="52.2"/><rect x="716.25" y="439.4" width="4.36" height="52.2"/><rect x="720.01" y="459.3" width="1.2" height="32.3"/><rect x="720.61" y="459.3" width="4.36" height="32.3"/><rect x="724.37" y="459.3" width="1.2" height="32.3"/><rect x="724.97" y="452.8" width="4.36" height="38.8"/><rect x="728.72" y="471" width="1.2" height="20.6"/><rect x="729.32" y="471" width="4.36" height="20.6"/><rect x="733.08" y="471" width="1.2" height="20.6"/><rect x="733.68" y="468.6" width="4.36" height="23"/><rect x="737.44" y="468.6" width="1.2" height="23"/><rect x="738.04" y="435.4" width="4.36" height="56.2"/><rect x="741.79" y="435.4" width="1.2" height="56.2"/><rect x="742.39" y="404.9" width="4.36" height="86.7"/><rect x="746.15" y="456.1" width="1.2" height="35.5"/><rect x="746.75" y="456.1" width="4.36" height="35.5"/><rect x="750.51" y="456.1" width="1.2" height="35.5"/><rect x="751.11" y="427.4" width="4.36" height="64.2"/><rect x="754.86" y="451.1" width="1.2" height="40.5"/><rect x="755.46" y="451.1" width="4.36" height="40.5"/><rect x="759.22" y="476.8" width="1.2" height="14.8"/><rect x="759.82" y="476.8" width="4.36" height="14.8"/><rect x="763.58" y="481.8" width="1.2" height="9.8"/><rect x="764.18" y="481.8" width="4.36" height="9.8"/><rect x="767.94" y="485.3" width="1.2" height="6.3"/><rect x="768.54" y="485.3" width="4.36" height="6.3"/><rect x="772.29" y="485.3" width="1.2" height="6.3"/><rect x="772.89" y="440.4" width="4.36" height="51.2"/><rect x="776.65" y="444.8" width="1.2" height="46.8"/><rect x="777.25" y="444.8" width="4.36" height="46.8"/><rect x="781.01" y="450.3" width="1.2" height="41.3"/><rect x="781.61" y="450.3" width="4.36" height="41.3"/><rect x="785.36" y="454.3" width="1.2" height="37.3"/><rect x="785.96" y="454.3" width="4.36" height="37.3"/><rect x="789.72" y="454.3" width="1.2" height="37.3"/><rect x="790.32" y="451.8" width="4.36" height="39.8"/><rect x="794.08" y="459.8" width="1.2" height="31.8"/><rect x="794.68" y="459.8" width="4.36" height="31.8"/><rect x="798.43" y="459.8" width="1.2" height="31.8"/><rect x="799.03" y="448.6" width="4.36" height="43"/><rect x="802.79" y="448.6" width="1.2" height="43"/><rect x="803.39" y="402.4" width="4.36" height="89.2"/><rect x="807.15" y="446.1" width="1.2" height="45.5"/><rect x="807.75" y="446.1" width="4.36" height="45.5"/><rect x="811.51" y="462.3" width="1.2" height="29.3"/><rect x="812.11" y="462.3" width="4.36" height="29.3"/><rect x="815.86" y="464.3" width="1.2" height="27.3"/><rect x="816.46" y="464.3" width="4.36" height="27.3"/><rect x="820.22" y="464.3" width="1.2" height="27.3"/><rect x="820.82" y="441.8" width="4.36" height="49.8"/><rect x="824.58" y="468.6" width="1.2" height="23"/><rect x="825.18" y="468.6" width="4.36" height="23"/><rect x="828.93" y="468.6" width="1.2" height="23"/><rect x="829.53" y="443.6" width="4.36" height="48"/><rect x="833.29" y="443.6" width="1.2" height="48"/><rect x="833.89" y="396.9" width="4.36" height="94.7"/><rect x="837.65" y="467.8" width="1.2" height="23.8"/><rect x="838.25" y="467.8" width="4.36" height="23.8"/><rect x="842" y="481" width="1.2" height="10.6"/><rect x="842.6" y="481" width="4.36" height="10.6"/><rect x="846.36" y="481" width="1.2" height="10.6"/><rect x="846.96" y="462.8" width="4.36" height="28.8"/><rect x="850.72" y="475.3" width="1.2" height="16.3"/><rect x="851.32" y="475.3" width="4.36" height="16.3"/><rect x="855.08" y="475.3" width="1.2" height="16.3"/><rect x="855.68" y="450.3" width="4.36" height="41.3"/><rect x="859.43" y="450.3" width="1.2" height="41.3"/><rect x="860.03" y="443.6" width="4.36" height="48"/><rect x="863.79" y="443.6" width="1.2" height="48"/><rect x="864.39" y="407.4" width="4.36" height="84.2"/><rect x="868.15" y="428.6" width="1.2" height="63"/><rect x="868.75" y="428.6" width="4.36" height="63"/><rect x="872.5" y="428.6" width="1.2" height="63"/><rect x="873.1" y="423.6" width="4.36" height="68"/><rect x="876.86" y="427.4" width="1.2" height="64.2"/><rect x="877.46" y="427.4" width="4.36" height="64.2"/><rect x="881.22" y="441.8" width="1.2" height="49.8"/><rect x="881.82" y="441.8" width="4.36" height="49.8"/><rect x="885.57" y="466.8" width="1.2" height="24.8"/><rect x="886.17" y="466.8" width="4.36" height="24.8"/><rect x="889.93" y="466.8" width="1.2" height="24.8"/><rect x="890.53" y="427.4" width="4.36" height="64.2"/><rect x="894.29" y="427.4" width="1.2" height="64.2"/><rect x="894.89" y="393.7" width="4.36" height="97.9"/><rect x="898.65" y="426.9" width="1.2" height="64.7"/><rect x="899.25" y="426.9" width="4.36" height="64.7"/><rect x="903" y="459.8" width="1.2" height="31.8"/><rect x="903.6" y="459.8" width="4.36" height="31.8"/><rect x="907.36" y="462.8" width="1.2" height="28.8"/><rect x="907.96" y="462.8" width="4.36" height="28.8"/><rect x="911.72" y="462.8" width="1.2" height="28.8"/><rect x="912.32" y="457.8" width="4.36" height="33.8"/><rect x="916.07" y="457.8" width="1.2" height="33.8"/><rect x="916.67" y="456.1" width="4.36" height="35.5"/><rect x="920.43" y="456.1" width="1.2" height="35.5"/><rect x="921.03" y="429.4" width="4.36" height="62.2"/><rect x="924.79" y="431.1" width="1.2" height="60.5"/><rect x="925.39" y="431.1" width="4.36" height="60.5"/><rect x="929.14" y="471" width="1.2" height="20.6"/><rect x="929.74" y="471" width="4.36" height="20.6"/><rect x="933.5" y="471" width="1.2" height="20.6"/><rect x="934.1" y="454.3" width="4.36" height="37.3"/><rect x="937.86" y="458.6" width="1.2" height="33"/><rect x="938.46" y="458.6" width="4.36" height="33"/><rect x="942.22" y="458.6" width="1.2" height="33"/><rect x="942.82" y="457.8" width="4.36" height="33.8"/><rect x="946.57" y="462.3" width="1.2" height="29.3"/><rect x="947.17" y="462.3" width="4.36" height="29.3"/><rect x="950.93" y="462.3" width="1.2" height="29.3"/><rect x="951.53" y="429.4" width="4.36" height="62.2"/><rect x="955.29" y="429.4" width="1.2" height="62.2"/><rect x="955.89" y="384.4" width="4.36" height="107.2"/><rect x="959.64" y="411.2" width="1.2" height="80.4"/><rect x="960.24" y="411.2" width="4.36" height="80.4"/><rect x="964" y="422.3" width="1.2" height="69.3"/><rect x="964.6" y="422.3" width="4.36" height="69.3"/><rect x="968.36" y="422.3" width="1.2" height="69.3"/><rect x="968.96" y="405.8" width="4.36" height="85.8"/><rect x="972.71" y="405.8" width="1.2" height="85.8"/><rect x="973.31" y="398.6" width="4.36" height="93"/><rect x="977.07" y="447.8" width="1.2" height="43.8"/><rect x="977.67" y="447.8" width="4.36" height="43.8"/><rect x="981.43" y="447.8" width="1.2" height="43.8"/><rect x="982.03" y="385.6" width="4.36" height="106"/><rect x="985.79" y="424.3" width="1.2" height="67.3"/><rect x="986.39" y="424.3" width="4.36" height="67.3"/><rect x="990.14" y="438.9" width="1.2" height="52.7"/><rect x="990.74" y="438.9" width="4.36" height="52.7"/><rect x="994.5" y="438.9" width="1.2" height="52.7"/><rect x="995.1" y="434" width="4.36" height="57.6"/><rect x="998.86" y="434" width="1.2" height="57.6"/><rect x="999.46" y="427.9" width="4.36" height="63.7"/><rect x="1003.21" y="427.9" width="1.2" height="63.7"/><rect x="1003.81" y="410.5" width="4.36" height="81.1"/><rect x="1007.57" y="410.5" width="1.2" height="81.1"/><rect x="1008.17" y="387.5" width="4.36" height="104.1"/><rect x="1011.93" y="387.5" width="1.2" height="104.1"/><rect x="1012.53" y="378.1" width="4.36" height="113.5"/><rect x="1016.28" y="378.1" width="1.2" height="113.5"/><rect x="1016.88" y="352.4" width="4.36" height="139.2"/><rect x="1020.64" y="373.7" width="1.2" height="117.9"/><rect x="1021.24" y="373.7" width="4.36" height="117.9"/><rect x="1025" y="427.9" width="1.2" height="63.7"/><rect x="1025.6" y="427.9" width="4.36" height="63.7"/><rect x="1029.36" y="427.9" width="1.2" height="63.7"/><rect x="1029.95" y="422.9" width="4.36" height="68.7"/><rect x="1033.71" y="437.3" width="1.2" height="54.3"/><rect x="1034.31" y="437.3" width="4.36" height="54.3"/><rect x="1038.07" y="437.3" width="1.2" height="54.3"/><rect x="1038.67" y="432.6" width="4.36" height="59"/><rect x="1042.43" y="432.6" width="1.2" height="59"/><rect x="1043.03" y="396.6" width="4.36" height="95"/><rect x="1046.78" y="417.6" width="1.2" height="74"/><rect x="1047.38" y="417.6" width="4.36" height="74"/><rect x="1051.14" y="485.5" width="1.2" height="6.1"/><rect x="1051.74" y="485.5" width="4.36" height="6.1"/><rect x="1055.5" y="485.5" width="1.2" height="6.1"/><rect x="1056.1" y="479.9" width="4.36" height="11.7"/><rect x="1059.85" y="486" width="1.2" height="5.6"/><rect x="1060.45" y="486" width="4.36" height="5.6"/><rect x="1064.21" y="486" width="1.2" height="5.6"/><rect x="1064.81" y="479.9" width="4.36" height="11.7"/><rect x="1068.57" y="487.7" width="1.2" height="3.9"/><rect x="1069.17" y="487.7" width="4.36" height="3.9"/><rect x="1072.93" y="488.1" width="1.2" height="3.5"/><rect x="1073.53" y="488.1" width="4.36" height="3.5"/><rect x="1077.28" y="488.1" width="1.2" height="3.5"/><rect x="1077.88" y="482.6" width="4.36" height="9"/><rect x="1081.64" y="488.9" width="1.2" height="2.7"/><rect x="1082.24" y="488.9" width="4.36" height="2.7"/><rect x="1086" y="490.6" width="1.2" height="1"/><rect x="1086.6" y="490.6" width="4.36" height="1"/><rect x="1090.35" y="490.6" width="1.2" height="1"/><rect x="1090.95" y="490.6" width="4.36" height="1"/><rect x="1094.71" y="490.6" width="1.2" height="1"/><rect x="1095.31" y="486.7" width="4.36" height="4.9"/><rect x="1099.07" y="490.6" width="1.2" height="1"/><rect x="1099.67" y="490.6" width="4.36" height="1"/><rect x="1103.42" y="491.5" width="1.2" height="0.1"/><rect x="1104.02" y="491.5" width="4.36" height="0.1"/><rect x="1107.78" y="491.5" width="1.2" height="0.1"/><rect x="1108.38" y="490.6" width="4.36" height="1"/><rect x="1112.14" y="491" width="1.2" height="0.6"/><rect x="1112.74" y="491" width="4.36" height="0.6"/><rect x="1116.5" y="491" width="1.2" height="0.6"/><rect x="1117.1" y="491" width="4.36" height="0.6"/><rect x="1120.85" y="491" width="1.2" height="0.6"/><rect x="1121.45" y="491" width="4.36" height="0.6"/><rect x="1125.21" y="491" width="1.2" height="0.6"/><rect x="1125.81" y="491" width="4.36" height="0.6"/><rect x="1129.57" y="491" width="1.2" height="0.6"/><rect x="1130.17" y="491" width="4.36" height="0.6"/><rect x="1133.92" y="491" width="1.2" height="0.6"/><rect x="1134.52" y="491" width="4.36" height="0.6"/><rect x="1138.28" y="491" width="1.2" height="0.6"/><rect x="1138.88" y="490.1" width="4.36" height="1.5"/><rect x="1142.64" y="491" width="1.2" height="0.6"/><rect x="1143.24" y="491" width="4.36" height="0.6"/><rect x="1146.99" y="491" width="1.2" height="0.6"/><rect x="1147.59" y="490.6" width="4.36" height="1"/><rect x="1151.35" y="491" width="1.2" height="0.6"/><rect x="1151.95" y="491" width="4.36" height="0.6"/><rect x="1155.71" y="491" width="1.2" height="0.6"/><rect x="1156.31" y="491" width="4.36" height="0.6"/><rect x="1160.07" y="491" width="1.2" height="0.6"/><rect x="1160.67" y="491" width="4.36" height="0.6"/><rect x="1164.42" y="491" width="1.2" height="0.6"/><rect x="1165.02" y="491" width="4.36" height="0.6"/><rect x="1168.78" y="491" width="1.2" height="0.6"/><rect x="1169.38" y="491" width="4.36" height="0.6"/><rect x="1173.14" y="491" width="1.2" height="0.6"/><rect x="1173.74" y="491" width="4.36" height="0.6"/><rect x="1177.49" y="491" width="1.2" height="0.6"/><rect x="1178.09" y="470.8" width="4.36" height="20.8"/><rect x="1181.85" y="470.8" width="1.2" height="20.8"/><rect x="1182.45" y="434.4" width="4.36" height="57.2"/><rect x="1186.21" y="469.4" width="1.2" height="22.2"/><rect x="1186.81" y="469.4" width="4.36" height="22.2"/><rect x="1190.56" y="471.1" width="1.2" height="20.5"/><rect x="1191.16" y="471.1" width="4.36" height="20.5"/><rect x="1194.92" y="471.1" width="1.2" height="20.5"/><rect x="1195.52" y="429.6" width="4.36" height="62"/><rect x="1199.28" y="442.7" width="1.2" height="48.9"/><rect x="1199.88" y="442.7" width="4.36" height="48.9"/><rect x="1203.64" y="450.5" width="1.2" height="41.1"/><rect x="1204.24" y="450.5" width="4.36" height="41.1"/><rect x="1207.99" y="478.2" width="1.2" height="13.4"/><rect x="1208.59" y="478.2" width="4.36" height="13.4"/><rect x="1212.35" y="478.2" width="1.2" height="13.4"/><rect x="1212.95" y="459.3" width="4.36" height="32.3"/><rect x="1216.71" y="479.3" width="1.2" height="12.3"/><rect x="1217.31" y="479.3" width="4.36" height="12.3"/><rect x="1221.06" y="479.3" width="1.2" height="12.3"/><rect x="1221.66" y="443.2" width="4.36" height="48.4"/><rect x="1225.42" y="443.2" width="1.2" height="48.4"/><rect x="1226.02" y="338.4" width="4.36" height="153.2"/><rect x="1229.78" y="348.3" width="1.2" height="143.3"/><rect x="1230.38" y="348.3" width="4.36" height="143.3"/><rect x="1234.13" y="416.1" width="1.2" height="75.5"/><rect x="1234.73" y="416.1" width="4.36" height="75.5"/><rect x="1238.49" y="444" width="1.2" height="47.6"/><rect x="1239.09" y="444" width="4.36" height="47.6"/><rect x="1242.85" y="444" width="1.2" height="47.6"/><rect x="1243.45" y="382.4" width="4.36" height="109.2"/><rect x="1247.21" y="382.4" width="1.2" height="109.2"/><rect x="1247.81" y="351.7" width="4.36" height="139.9"/><rect x="1251.56" y="448.1" width="1.2" height="43.5"/><rect x="1252.16" y="448.1" width="4.36" height="43.5"/><rect x="1255.92" y="448.1" width="1.2" height="43.5"/><rect x="1256.52" y="415.2" width="4.36" height="76.4"/><rect x="1260.28" y="415.2" width="1.2" height="76.4"/><rect x="1260.88" y="336" width="4.36" height="155.6"/><rect x="1264.63" y="418.5" width="1.2" height="73.1"/><rect x="1265.23" y="418.5" width="4.36" height="73.1"/><rect x="1268.99" y="418.5" width="1.2" height="73.1"/><rect x="1269.59" y="409.9" width="4.36" height="81.7"/><rect x="1273.35" y="409.9" width="1.2" height="81.7"/><rect x="1273.95" y="392.5" width="4.36" height="99.1"/><rect x="1277.7" y="392.5" width="1.2" height="99.1"/><rect x="1278.3" y="294.6" width="4.06" height="197"/></g>
<g fill="#fff" opacity="0.27"><rect x="96.56" y="66.4" width="2" height="425.2"/><rect x="100.91" y="66.4" width="2" height="425.2"/><rect x="105.27" y="66.4" width="2" height="425.2"/><rect x="109.63" y="66.4" width="2" height="425.2"/><rect x="113.98" y="66.4" width="2" height="425.2"/><rect x="118.34" y="66.4" width="2" height="425.2"/><rect x="122.7" y="66.4" width="2" height="425.2"/><rect x="127.06" y="66.4" width="2" height="425.2"/><rect x="131.41" y="66.4" width="2" height="425.2"/><rect x="135.77" y="66.4" width="2" height="425.2"/><rect x="140.13" y="66.4" width="2" height="425.2"/><rect x="144.48" y="66.4" width="2" height="425.2"/><rect x="148.84" y="66.4" width="2" height="425.2"/><rect x="153.2" y="66.4" width="2" height="425.2"/><rect x="157.56" y="66.4" width="2" height="425.2"/><rect x="161.91" y="66.4" width="2" height="425.2"/><rect x="166.27" y="66.4" width="2" height="425.2"/><rect x="170.63" y="66.4" width="2" height="425.2"/><rect x="174.98" y="66.4" width="2" height="425.2"/><rect x="179.34" y="66.4" width="2" height="425.2"/><rect x="183.7" y="66.4" width="2" height="425.2"/><rect x="188.05" y="66.4" width="2" height="425.2"/><rect x="192.41" y="66.4" width="2" height="425.2"/><rect x="196.77" y="66.4" width="2" height="425.2"/><rect x="201.12" y="66.4" width="2" height="425.2"/><rect x="205.48" y="66.4" width="2" height="425.2"/><rect x="209.84" y="66.4" width="2" height="425.2"/><rect x="214.2" y="66.4" width="2" height="425.2"/><rect x="218.55" y="66.4" width="2" height="425.2"/><rect x="222.91" y="66.4" width="2" height="425.2"/><rect x="227.27" y="66.4" width="2" height="425.2"/><rect x="231.62" y="66.4" width="2" height="425.2"/><rect x="235.98" y="66.4" width="2" height="425.2"/><rect x="240.34" y="66.4" width="2" height="425.2"/><rect x="244.69" y="66.4" width="2" height="425.2"/><rect x="249.05" y="66.4" width="2" height="425.2"/><rect x="253.41" y="66.4" width="2" height="425.2"/><rect x="257.77" y="66.4" width="2" height="425.2"/><rect x="262.12" y="66.4" width="2" height="425.2"/><rect x="266.48" y="66.4" width="2" height="425.2"/><rect x="270.84" y="66.4" width="2" height="425.2"/><rect x="275.19" y="66.4" width="2" height="425.2"/><rect x="279.55" y="66.4" width="2" height="425.2"/><rect x="283.91" y="66.4" width="2" height="425.2"/><rect x="288.26" y="66.4" width="2" height="425.2"/><rect x="292.62" y="66.4" width="2" height="425.2"/><rect x="296.98" y="66.4" width="2" height="425.2"/><rect x="301.34" y="66.4" width="2" height="425.2"/><rect x="305.69" y="66.4" width="2" height="425.2"/><rect x="310.05" y="66.4" width="2" height="425.2"/><rect x="314.41" y="66.4" width="2" height="425.2"/><rect x="318.76" y="66.4" width="2" height="425.2"/><rect x="323.12" y="66.4" width="2" height="425.2"/><rect x="327.48" y="66.4" width="2" height="425.2"/><rect x="331.84" y="66.4" width="2" height="425.2"/><rect x="336.19" y="66.4" width="2" height="425.2"/><rect x="340.55" y="66.4" width="2" height="425.2"/><rect x="344.91" y="66.4" width="2" height="425.2"/><rect x="349.26" y="66.4" width="2" height="425.2"/><rect x="353.62" y="66.4" width="2" height="425.2"/><rect x="357.98" y="66.4" width="2" height="425.2"/><rect x="362.33" y="66.4" width="2" height="425.2"/><rect x="366.69" y="66.4" width="2" height="425.2"/><rect x="371.05" y="66.4" width="2" height="425.2"/><rect x="375.41" y="66.4" width="2" height="425.2"/><rect x="379.76" y="66.4" width="2" height="425.2"/><rect x="384.12" y="66.4" width="2" height="425.2"/><rect x="388.48" y="66.4" width="2" height="425.2"/><rect x="392.83" y="66.4" width="2" height="425.2"/><rect x="397.19" y="66.4" width="2" height="425.2"/><rect x="401.55" y="66.4" width="2" height="425.2"/><rect x="405.9" y="66.4" width="2" height="425.2"/><rect x="410.26" y="66.4" width="2" height="425.2"/><rect x="414.62" y="66.4" width="2" height="425.2"/><rect x="418.98" y="66.4" width="2" height="425.2"/><rect x="423.33" y="66.4" width="2" height="425.2"/><rect x="427.69" y="66.4" width="2" height="425.2"/><rect x="432.05" y="66.4" width="2" height="425.2"/><rect x="436.4" y="66.4" width="2" height="425.2"/><rect x="440.76" y="66.4" width="2" height="425.2"/><rect x="445.12" y="66.4" width="2" height="425.2"/><rect x="449.47" y="66.4" width="2" height="425.2"/><rect x="453.83" y="66.4" width="2" height="425.2"/><rect x="458.19" y="66.4" width="2" height="425.2"/><rect x="462.55" y="66.4" width="2" height="425.2"/><rect x="466.9" y="66.4" width="2" height="425.2"/><rect x="471.26" y="66.4" width="2" height="425.2"/><rect x="475.62" y="66.4" width="2" height="425.2"/><rect x="479.97" y="66.4" width="2" height="425.2"/><rect x="484.33" y="66.4" width="2" height="425.2"/><rect x="488.69" y="66.4" width="2" height="425.2"/><rect x="493.04" y="66.4" width="2" height="425.2"/><rect x="497.4" y="66.4" width="2" height="425.2"/><rect x="501.76" y="66.4" width="2" height="425.2"/><rect x="506.12" y="66.4" width="2" height="425.2"/><rect x="510.47" y="66.4" width="2" height="425.2"/><rect x="514.83" y="66.4" width="2" height="425.2"/><rect x="519.19" y="66.4" width="2" height="425.2"/><rect x="523.54" y="66.4" width="2" height="425.2"/><rect x="527.9" y="66.4" width="2" height="425.2"/><rect x="532.26" y="66.4" width="2" height="425.2"/><rect x="536.61" y="66.4" width="2" height="425.2"/><rect x="540.97" y="66.4" width="2" height="425.2"/><rect x="545.33" y="66.4" width="2" height="425.2"/><rect x="549.69" y="66.4" width="2" height="425.2"/><rect x="554.04" y="66.4" width="2" height="425.2"/><rect x="558.4" y="66.4" width="2" height="425.2"/><rect x="562.76" y="66.4" width="2" height="425.2"/><rect x="567.11" y="66.4" width="2" height="425.2"/><rect x="571.47" y="66.4" width="2" height="425.2"/><rect x="575.83" y="66.4" width="2" height="425.2"/><rect x="580.18" y="66.4" width="2" height="425.2"/><rect x="584.54" y="66.4" width="2" height="425.2"/><rect x="588.9" y="66.4" width="2" height="425.2"/><rect x="593.25" y="66.4" width="2" height="425.2"/><rect x="597.61" y="66.4" width="2" height="425.2"/><rect x="601.97" y="66.4" width="2" height="425.2"/><rect x="606.33" y="66.4" width="2" height="425.2"/><rect x="610.68" y="66.4" width="2" height="425.2"/><rect x="615.04" y="66.4" width="2" height="425.2"/><rect x="619.4" y="66.4" width="2" height="425.2"/><rect x="623.75" y="66.4" width="2" height="425.2"/><rect x="628.11" y="66.4" width="2" height="425.2"/><rect x="632.47" y="66.4" width="2" height="425.2"/><rect x="636.83" y="66.4" width="2" height="425.2"/><rect x="641.18" y="66.4" width="2" height="425.2"/><rect x="645.54" y="66.4" width="2" height="425.2"/><rect x="649.9" y="66.4" width="2" height="425.2"/><rect x="654.25" y="66.4" width="2" height="425.2"/><rect x="658.61" y="66.4" width="2" height="425.2"/><rect x="662.97" y="66.4" width="2" height="425.2"/><rect x="667.32" y="66.4" width="2" height="425.2"/><rect x="671.68" y="66.4" width="2" height="425.2"/><rect x="676.04" y="66.4" width="2" height="425.2"/><rect x="680.4" y="66.4" width="2" height="425.2"/><rect x="684.75" y="66.4" width="2" height="425.2"/><rect x="689.11" y="66.4" width="2" height="425.2"/><rect x="693.47" y="66.4" width="2" height="425.2"/><rect x="697.82" y="66.4" width="2" height="425.2"/><rect x="702.18" y="66.4" width="2" height="425.2"/><rect x="706.54" y="66.4" width="2" height="425.2"/><rect x="710.89" y="66.4" width="2" height="425.2"/><rect x="715.25" y="66.4" width="2" height="425.2"/><rect x="719.61" y="66.4" width="2" height="425.2"/><rect x="723.97" y="66.4" width="2" height="425.2"/><rect x="728.32" y="66.4" width="2" height="425.2"/><rect x="732.68" y="66.4" width="2" height="425.2"/><rect x="737.04" y="66.4" width="2" height="425.2"/><rect x="741.39" y="66.4" width="2" height="425.2"/><rect x="745.75" y="66.4" width="2" height="425.2"/><rect x="750.11" y="66.4" width="2" height="425.2"/><rect x="754.46" y="66.4" width="2" height="425.2"/><rect x="758.82" y="66.4" width="2" height="425.2"/><rect x="763.18" y="66.4" width="2" height="425.2"/><rect x="767.54" y="66.4" width="2" height="425.2"/><rect x="771.89" y="66.4" width="2" height="425.2"/><rect x="776.25" y="66.4" width="2" height="425.2"/><rect x="780.61" y="66.4" width="2" height="425.2"/><rect x="784.96" y="66.4" width="2" height="425.2"/><rect x="789.32" y="66.4" width="2" height="425.2"/><rect x="793.68" y="66.4" width="2" height="425.2"/><rect x="798.03" y="66.4" width="2" height="425.2"/><rect x="802.39" y="66.4" width="2" height="425.2"/><rect x="806.75" y="66.4" width="2" height="425.2"/><rect x="811.11" y="66.4" width="2" height="425.2"/><rect x="815.46" y="66.4" width="2" height="425.2"/><rect x="819.82" y="66.4" width="2" height="425.2"/><rect x="824.18" y="66.4" width="2" height="425.2"/><rect x="828.53" y="66.4" width="2" height="425.2"/><rect x="832.89" y="66.4" width="2" height="425.2"/><rect x="837.25" y="66.4" width="2" height="425.2"/><rect x="841.6" y="66.4" width="2" height="425.2"/><rect x="845.96" y="66.4" width="2" height="425.2"/><rect x="850.32" y="66.4" width="2" height="425.2"/><rect x="854.68" y="66.4" width="2" height="425.2"/><rect x="859.03" y="66.4" width="2" height="425.2"/><rect x="863.39" y="66.4" width="2" height="425.2"/><rect x="867.75" y="66.4" width="2" height="425.2"/><rect x="872.1" y="66.4" width="2" height="425.2"/><rect x="876.46" y="66.4" width="2" height="425.2"/><rect x="880.82" y="66.4" width="2" height="425.2"/><rect x="885.17" y="66.4" width="2" height="425.2"/><rect x="889.53" y="66.4" width="2" height="425.2"/><rect x="893.89" y="66.4" width="2" height="425.2"/><rect x="898.25" y="66.4" width="2" height="425.2"/><rect x="902.6" y="66.4" width="2" height="425.2"/><rect x="906.96" y="66.4" width="2" height="425.2"/><rect x="911.32" y="66.4" width="2" height="425.2"/><rect x="915.67" y="66.4" width="2" height="425.2"/><rect x="920.03" y="66.4" width="2" height="425.2"/><rect x="924.39" y="66.4" width="2" height="425.2"/><rect x="928.74" y="66.4" width="2" height="425.2"/><rect x="933.1" y="66.4" width="2" height="425.2"/><rect x="937.46" y="66.4" width="2" height="425.2"/><rect x="941.82" y="66.4" width="2" height="425.2"/><rect x="946.17" y="66.4" width="2" height="425.2"/><rect x="950.53" y="66.4" width="2" height="425.2"/><rect x="954.89" y="66.4" width="2" height="425.2"/><rect x="959.24" y="66.4" width="2" height="425.2"/><rect x="963.6" y="66.4" width="2" height="425.2"/><rect x="967.96" y="66.4" width="2" height="425.2"/><rect x="972.31" y="66.4" width="2" height="425.2"/><rect x="976.67" y="66.4" width="2" height="425.2"/><rect x="981.03" y="66.4" width="2" height="425.2"/><rect x="985.39" y="66.4" width="2" height="425.2"/><rect x="989.74" y="66.4" width="2" height="425.2"/><rect x="994.1" y="66.4" width="2" height="425.2"/><rect x="998.46" y="66.4" width="2" height="425.2"/><rect x="1002.81" y="66.4" width="2" height="425.2"/><rect x="1007.17" y="66.4" width="2" height="425.2"/><rect x="1011.53" y="66.4" width="2" height="425.2"/><rect x="1015.88" y="66.4" width="2" height="425.2"/><rect x="1020.24" y="66.4" width="2" height="425.2"/><rect x="1024.6" y="66.4" width="2" height="425.2"/><rect x="1028.95" y="66.4" width="2" height="425.2"/><rect x="1033.31" y="66.4" width="2" height="425.2"/><rect x="1037.67" y="66.4" width="2" height="425.2"/><rect x="1042.03" y="66.4" width="2" height="425.2"/><rect x="1046.38" y="66.4" width="2" height="425.2"/><rect x="1050.74" y="66.4" width="2" height="425.2"/><rect x="1055.1" y="66.4" width="2" height="425.2"/><rect x="1059.45" y="66.4" width="2" height="425.2"/><rect x="1063.81" y="66.4" width="2" height="425.2"/><rect x="1068.17" y="66.4" width="2" height="425.2"/><rect x="1072.53" y="66.4" width="2" height="425.2"/><rect x="1076.88" y="66.4" width="2" height="425.2"/><rect x="1081.24" y="66.4" width="2" height="425.2"/><rect x="1085.6" y="66.4" width="2" height="425.2"/><rect x="1089.95" y="66.4" width="2" height="425.2"/><rect x="1094.31" y="66.4" width="2" height="425.2"/><rect x="1098.67" y="66.4" width="2" height="425.2"/><rect x="1103.02" y="66.4" width="2" height="425.2"/><rect x="1107.38" y="66.4" width="2" height="425.2"/><rect x="1111.74" y="66.4" width="2" height="425.2"/><rect x="1116.1" y="66.4" width="2" height="425.2"/><rect x="1120.45" y="66.4" width="2" height="425.2"/><rect x="1124.81" y="66.4" width="2" height="425.2"/><rect x="1129.17" y="66.4" width="2" height="425.2"/><rect x="1133.52" y="66.4" width="2" height="425.2"/><rect x="1137.88" y="66.4" width="2" height="425.2"/><rect x="1142.24" y="66.4" width="2" height="425.2"/><rect x="1146.59" y="66.4" width="2" height="425.2"/><rect x="1150.95" y="66.4" width="2" height="425.2"/><rect x="1155.31" y="66.4" width="2" height="425.2"/><rect x="1159.67" y="66.4" width="2" height="425.2"/><rect x="1164.02" y="66.4" width="2" height="425.2"/><rect x="1168.38" y="66.4" width="2" height="425.2"/><rect x="1172.74" y="66.4" width="2" height="425.2"/><rect x="1177.09" y="66.4" width="2" height="425.2"/><rect x="1181.45" y="66.4" width="2" height="425.2"/><rect x="1185.81" y="66.4" width="2" height="425.2"/><rect x="1190.16" y="66.4" width="2" height="425.2"/><rect x="1194.52" y="66.4" width="2" height="425.2"/><rect x="1198.88" y="66.4" width="2" height="425.2"/><rect x="1203.24" y="66.4" width="2" height="425.2"/><rect x="1207.59" y="66.4" width="2" height="425.2"/><rect x="1211.95" y="66.4" width="2" height="425.2"/><rect x="1216.31" y="66.4" width="2" height="425.2"/><rect x="1220.66" y="66.4" width="2" height="425.2"/><rect x="1225.02" y="66.4" width="2" height="425.2"/><rect x="1229.38" y="66.4" width="2" height="425.2"/><rect x="1233.73" y="66.4" width="2" height="425.2"/><rect x="1238.09" y="66.4" width="2" height="425.2"/><rect x="1242.45" y="66.4" width="2" height="425.2"/><rect x="1246.81" y="66.4" width="2" height="425.2"/><rect x="1251.16" y="66.4" width="2" height="425.2"/><rect x="1255.52" y="66.4" width="2" height="425.2"/><rect x="1259.88" y="66.4" width="2" height="425.2"/><rect x="1264.23" y="66.4" width="2" height="425.2"/><rect x="1268.59" y="66.4" width="2" height="425.2"/><rect x="1272.95" y="66.4" width="2" height="425.2"/><rect x="1277.3" y="66.4" width="2" height="425.2"/></g>
<rect x="93.2" y="490.9" width="1189.46" height="2" fill="#555" opacity="0.9"/>
<g fill="#2a2a2a" opacity="0.55"><rect x="92.7" y="491.4" width="1" height="1.3"/><rect x="97.06" y="491.4" width="1" height="1.3"/><rect x="101.41" y="491.4" width="1" height="1.3"/><rect x="105.77" y="491.4" width="1" height="1.3"/><rect x="110.13" y="491.4" width="1" height="1.3"/><rect x="114.48" y="491.4" width="1" height="1.3"/><rect x="118.84" y="491.4" width="1" height="1.3"/><rect x="123.2" y="491.4" width="1" height="1.3"/><rect x="127.56" y="491.4" width="1" height="1.3"/><rect x="131.91" y="491.4" width="1" height="1.3"/><rect x="136.27" y="491.4" width="1" height="1.3"/><rect x="140.63" y="491.4" width="1" height="1.3"/><rect x="144.98" y="491.4" width="1" height="1.3"/><rect x="149.34" y="491.4" width="1" height="1.3"/><rect x="153.7" y="491.4" width="1" height="1.3"/><rect x="158.06" y="491.4" width="1" height="1.3"/><rect x="162.41" y="491.4" width="1" height="1.3"/><rect x="166.77" y="491.4" width="1" height="1.3"/><rect x="171.13" y="491.4" width="1" height="1.3"/><rect x="175.48" y="491.4" width="1" height="1.3"/><rect x="179.84" y="491.4" width="1" height="1.3"/><rect x="184.2" y="491.4" width="1" height="1.3"/><rect x="188.55" y="491.4" width="1" height="1.3"/><rect x="192.91" y="491.4" width="1" height="1.3"/><rect x="197.27" y="491.4" width="1" height="1.3"/><rect x="201.62" y="491.4" width="1" height="1.3"/><rect x="205.98" y="491.4" width="1" height="1.3"/><rect x="210.34" y="491.4" width="1" height="1.3"/><rect x="214.7" y="491.4" width="1" height="1.3"/><rect x="219.05" y="491.4" width="1" height="1.3"/><rect x="223.41" y="491.4" width="1" height="1.3"/><rect x="227.77" y="491.4" width="1" height="1.3"/><rect x="232.12" y="491.4" width="1" height="1.3"/><rect x="236.48" y="491.4" width="1" height="1.3"/><rect x="240.84" y="491.4" width="1" height="1.3"/><rect x="245.19" y="491.4" width="1" height="1.3"/><rect x="249.55" y="491.4" width="1" height="1.3"/><rect x="253.91" y="491.4" width="1" height="1.3"/><rect x="258.27" y="491.4" width="1" height="1.3"/><rect x="262.62" y="491.4" width="1" height="1.3"/><rect x="266.98" y="491.4" width="1" height="1.3"/><rect x="271.34" y="491.4" width="1" height="1.3"/><rect x="275.69" y="491.4" width="1" height="1.3"/><rect x="280.05" y="491.4" width="1" height="1.3"/><rect x="284.41" y="491.4" width="1" height="1.3"/><rect x="288.76" y="491.4" width="1" height="1.3"/><rect x="293.12" y="491.4" width="1" height="1.3"/><rect x="297.48" y="491.4" width="1" height="1.3"/><rect x="301.84" y="491.4" width="1" height="1.3"/><rect x="306.19" y="491.4" width="1" height="1.3"/><rect x="310.55" y="491.4" width="1" height="1.3"/><rect x="314.91" y="491.4" width="1" height="1.3"/><rect x="319.26" y="491.4" width="1" height="1.3"/><rect x="323.62" y="491.4" width="1" height="1.3"/><rect x="327.98" y="491.4" width="1" height="1.3"/><rect x="332.34" y="491.4" width="1" height="1.3"/><rect x="336.69" y="491.4" width="1" height="1.3"/><rect x="341.05" y="491.4" width="1" height="1.3"/><rect x="345.41" y="491.4" width="1" height="1.3"/><rect x="349.76" y="491.4" width="1" height="1.3"/><rect x="354.12" y="491.4" width="1" height="1.3"/><rect x="358.48" y="491.4" width="1" height="1.3"/><rect x="362.83" y="491.4" width="1" height="1.3"/><rect x="367.19" y="491.4" width="1" height="1.3"/><rect x="371.55" y="491.4" width="1" height="1.3"/><rect x="375.91" y="491.4" width="1" height="1.3"/><rect x="380.26" y="491.4" width="1" height="1.3"/><rect x="384.62" y="491.4" width="1" height="1.3"/><rect x="388.98" y="491.4" width="1" height="1.3"/><rect x="393.33" y="491.4" width="1" height="1.3"/><rect x="397.69" y="491.4" width="1" height="1.3"/><rect x="402.05" y="491.4" width="1" height="1.3"/><rect x="406.4" y="491.4" width="1" height="1.3"/><rect x="410.76" y="491.4" width="1" height="1.3"/><rect x="415.12" y="491.4" width="1" height="1.3"/><rect x="419.48" y="491.4" width="1" height="1.3"/><rect x="423.83" y="491.4" width="1" height="1.3"/><rect x="428.19" y="491.4" width="1" height="1.3"/><rect x="432.55" y="491.4" width="1" height="1.3"/><rect x="436.9" y="491.4" width="1" height="1.3"/><rect x="441.26" y="491.4" width="1" height="1.3"/><rect x="445.62" y="491.4" width="1" height="1.3"/><rect x="449.97" y="491.4" width="1" height="1.3"/><rect x="454.33" y="491.4" width="1" height="1.3"/><rect x="458.69" y="491.4" width="1" height="1.3"/><rect x="463.05" y="491.4" width="1" height="1.3"/><rect x="467.4" y="491.4" width="1" height="1.3"/><rect x="471.76" y="491.4" width="1" height="1.3"/><rect x="476.12" y="491.4" width="1" height="1.3"/><rect x="480.47" y="491.4" width="1" height="1.3"/><rect x="484.83" y="491.4" width="1" height="1.3"/><rect x="489.19" y="491.4" width="1" height="1.3"/><rect x="493.54" y="491.4" width="1" height="1.3"/><rect x="497.9" y="491.4" width="1" height="1.3"/><rect x="502.26" y="491.4" width="1" height="1.3"/><rect x="506.62" y="491.4" width="1" height="1.3"/><rect x="510.97" y="491.4" width="1" height="1.3"/><rect x="515.33" y="491.4" width="1" height="1.3"/><rect x="519.69" y="491.4" width="1" height="1.3"/><rect x="524.04" y="491.4" width="1" height="1.3"/><rect x="528.4" y="491.4" width="1" height="1.3"/><rect x="532.76" y="491.4" width="1" height="1.3"/><rect x="537.11" y="491.4" width="1" height="1.3"/><rect x="541.47" y="491.4" width="1" height="1.3"/><rect x="545.83" y="491.4" width="1" height="1.3"/><rect x="550.19" y="491.4" width="1" height="1.3"/><rect x="554.54" y="491.4" width="1" height="1.3"/><rect x="558.9" y="491.4" width="1" height="1.3"/><rect x="563.26" y="491.4" width="1" height="1.3"/><rect x="567.61" y="491.4" width="1" height="1.3"/><rect x="571.97" y="491.4" width="1" height="1.3"/><rect x="576.33" y="491.4" width="1" height="1.3"/><rect x="580.68" y="491.4" width="1" height="1.3"/><rect x="585.04" y="491.4" width="1" height="1.3"/><rect x="589.4" y="491.4" width="1" height="1.3"/><rect x="593.75" y="491.4" width="1" height="1.3"/><rect x="598.11" y="491.4" width="1" height="1.3"/><rect x="602.47" y="491.4" width="1" height="1.3"/><rect x="606.83" y="491.4" width="1" height="1.3"/><rect x="611.18" y="491.4" width="1" height="1.3"/><rect x="615.54" y="491.4" width="1" height="1.3"/><rect x="619.9" y="491.4" width="1" height="1.3"/><rect x="624.25" y="491.4" width="1" height="1.3"/><rect x="628.61" y="491.4" width="1" height="1.3"/><rect x="632.97" y="491.4" width="1" height="1.3"/><rect x="637.33" y="491.4" width="1" height="1.3"/><rect x="641.68" y="491.4" width="1" height="1.3"/><rect x="646.04" y="491.4" width="1" height="1.3"/><rect x="650.4" y="491.4" width="1" height="1.3"/><rect x="654.75" y="491.4" width="1" height="1.3"/><rect x="659.11" y="491.4" width="1" height="1.3"/><rect x="663.47" y="491.4" width="1" height="1.3"/><rect x="667.82" y="491.4" width="1" height="1.3"/><rect x="672.18" y="491.4" width="1" height="1.3"/><rect x="676.54" y="491.4" width="1" height="1.3"/><rect x="680.9" y="491.4" width="1" height="1.3"/><rect x="685.25" y="491.4" width="1" height="1.3"/><rect x="689.61" y="491.4" width="1" height="1.3"/><rect x="693.97" y="491.4" width="1" height="1.3"/><rect x="698.32" y="491.4" width="1" height="1.3"/><rect x="702.68" y="491.4" width="1" height="1.3"/><rect x="707.04" y="491.4" width="1" height="1.3"/><rect x="711.39" y="491.4" width="1" height="1.3"/><rect x="715.75" y="491.4" width="1" height="1.3"/><rect x="720.11" y="491.4" width="1" height="1.3"/><rect x="724.47" y="491.4" width="1" height="1.3"/><rect x="728.82" y="491.4" width="1" height="1.3"/><rect x="733.18" y="491.4" width="1" height="1.3"/><rect x="737.54" y="491.4" width="1" height="1.3"/><rect x="741.89" y="491.4" width="1" height="1.3"/><rect x="746.25" y="491.4" width="1" height="1.3"/><rect x="750.61" y="491.4" width="1" height="1.3"/><rect x="754.96" y="491.4" width="1" height="1.3"/><rect x="759.32" y="491.4" width="1" height="1.3"/><rect x="763.68" y="491.4" width="1" height="1.3"/><rect x="768.04" y="491.4" width="1" height="1.3"/><rect x="772.39" y="491.4" width="1" height="1.3"/><rect x="776.75" y="491.4" width="1" height="1.3"/><rect x="781.11" y="491.4" width="1" height="1.3"/><rect x="785.46" y="491.4" width="1" height="1.3"/><rect x="789.82" y="491.4" width="1" height="1.3"/><rect x="794.18" y="491.4" width="1" height="1.3"/><rect x="798.53" y="491.4" width="1" height="1.3"/><rect x="802.89" y="491.4" width="1" height="1.3"/><rect x="807.25" y="491.4" width="1" height="1.3"/><rect x="811.61" y="491.4" width="1" height="1.3"/><rect x="815.96" y="491.4" width="1" height="1.3"/><rect x="820.32" y="491.4" width="1" height="1.3"/><rect x="824.68" y="491.4" width="1" height="1.3"/><rect x="829.03" y="491.4" width="1" height="1.3"/><rect x="833.39" y="491.4" width="1" height="1.3"/><rect x="837.75" y="491.4" width="1" height="1.3"/><rect x="842.1" y="491.4" width="1" height="1.3"/><rect x="846.46" y="491.4" width="1" height="1.3"/><rect x="850.82" y="491.4" width="1" height="1.3"/><rect x="855.18" y="491.4" width="1" height="1.3"/><rect x="859.53" y="491.4" width="1" height="1.3"/><rect x="863.89" y="491.4" width="1" height="1.3"/><rect x="868.25" y="491.4" width="1" height="1.3"/><rect x="872.6" y="491.4" width="1" height="1.3"/><rect x="876.96" y="491.4" width="1" height="1.3"/><rect x="881.32" y="491.4" width="1" height="1.3"/><rect x="885.67" y="491.4" width="1" height="1.3"/><rect x="890.03" y="491.4" width="1" height="1.3"/><rect x="894.39" y="491.4" width="1" height="1.3"/><rect x="898.75" y="491.4" width="1" height="1.3"/><rect x="903.1" y="491.4" width="1" height="1.3"/><rect x="907.46" y="491.4" width="1" height="1.3"/><rect x="911.82" y="491.4" width="1" height="1.3"/><rect x="916.17" y="491.4" width="1" height="1.3"/><rect x="920.53" y="491.4" width="1" height="1.3"/><rect x="924.89" y="491.4" width="1" height="1.3"/><rect x="929.24" y="491.4" width="1" height="1.3"/><rect x="933.6" y="491.4" width="1" height="1.3"/><rect x="937.96" y="491.4" width="1" height="1.3"/><rect x="942.32" y="491.4" width="1" height="1.3"/><rect x="946.67" y="491.4" width="1" height="1.3"/><rect x="951.03" y="491.4" width="1" height="1.3"/><rect x="955.39" y="491.4" width="1" height="1.3"/><rect x="959.74" y="491.4" width="1" height="1.3"/><rect x="964.1" y="491.4" width="1" height="1.3"/><rect x="968.46" y="491.4" width="1" height="1.3"/><rect x="972.81" y="491.4" width="1" height="1.3"/><rect x="977.17" y="491.4" width="1" height="1.3"/><rect x="981.53" y="491.4" width="1" height="1.3"/><rect x="985.89" y="491.4" width="1" height="1.3"/><rect x="990.24" y="491.4" width="1" height="1.3"/><rect x="994.6" y="491.4" width="1" height="1.3"/><rect x="998.96" y="491.4" width="1" height="1.3"/><rect x="1003.31" y="491.4" width="1" height="1.3"/><rect x="1007.67" y="491.4" width="1" height="1.3"/><rect x="1012.03" y="491.4" width="1" height="1.3"/><rect x="1016.38" y="491.4" width="1" height="1.3"/><rect x="1020.74" y="491.4" width="1" height="1.3"/><rect x="1025.1" y="491.4" width="1" height="1.3"/><rect x="1029.45" y="491.4" width="1" height="1.3"/><rect x="1033.81" y="491.4" width="1" height="1.3"/><rect x="1038.17" y="491.4" width="1" height="1.3"/><rect x="1042.53" y="491.4" width="1" height="1.3"/><rect x="1046.88" y="491.4" width="1" height="1.3"/><rect x="1051.24" y="491.4" width="1" height="1.3"/><rect x="1055.6" y="491.4" width="1" height="1.3"/><rect x="1059.95" y="491.4" width="1" height="1.3"/><rect x="1064.31" y="491.4" width="1" height="1.3"/><rect x="1068.67" y="491.4" width="1" height="1.3"/><rect x="1073.03" y="491.4" width="1" height="1.3"/><rect x="1077.38" y="491.4" width="1" height="1.3"/><rect x="1081.74" y="491.4" width="1" height="1.3"/><rect x="1086.1" y="491.4" width="1" height="1.3"/><rect x="1090.45" y="491.4" width="1" height="1.3"/><rect x="1094.81" y="491.4" width="1" height="1.3"/><rect x="1099.17" y="491.4" width="1" height="1.3"/><rect x="1103.52" y="491.4" width="1" height="1.3"/><rect x="1107.88" y="491.4" width="1" height="1.3"/><rect x="1112.24" y="491.4" width="1" height="1.3"/><rect x="1116.6" y="491.4" width="1" height="1.3"/><rect x="1120.95" y="491.4" width="1" height="1.3"/><rect x="1125.31" y="491.4" width="1" height="1.3"/><rect x="1129.67" y="491.4" width="1" height="1.3"/><rect x="1134.02" y="491.4" width="1" height="1.3"/><rect x="1138.38" y="491.4" width="1" height="1.3"/><rect x="1142.74" y="491.4" width="1" height="1.3"/><rect x="1147.09" y="491.4" width="1" height="1.3"/><rect x="1151.45" y="491.4" width="1" height="1.3"/><rect x="1155.81" y="491.4" width="1" height="1.3"/><rect x="1160.17" y="491.4" width="1" height="1.3"/><rect x="1164.52" y="491.4" width="1" height="1.3"/><rect x="1168.88" y="491.4" width="1" height="1.3"/><rect x="1173.24" y="491.4" width="1" height="1.3"/><rect x="1177.59" y="491.4" width="1" height="1.3"/><rect x="1181.95" y="491.4" width="1" height="1.3"/><rect x="1186.31" y="491.4" width="1" height="1.3"/><rect x="1190.66" y="491.4" width="1" height="1.3"/><rect x="1195.02" y="491.4" width="1" height="1.3"/><rect x="1199.38" y="491.4" width="1" height="1.3"/><rect x="1203.74" y="491.4" width="1" height="1.3"/><rect x="1208.09" y="491.4" width="1" height="1.3"/><rect x="1212.45" y="491.4" width="1" height="1.3"/><rect x="1216.81" y="491.4" width="1" height="1.3"/><rect x="1221.16" y="491.4" width="1" height="1.3"/><rect x="1225.52" y="491.4" width="1" height="1.3"/><rect x="1229.88" y="491.4" width="1" height="1.3"/><rect x="1234.23" y="491.4" width="1" height="1.3"/><rect x="1238.59" y="491.4" width="1" height="1.3"/><rect x="1242.95" y="491.4" width="1" height="1.3"/><rect x="1247.31" y="491.4" width="1" height="1.3"/><rect x="1251.66" y="491.4" width="1" height="1.3"/><rect x="1256.02" y="491.4" width="1" height="1.3"/><rect x="1260.38" y="491.4" width="1" height="1.3"/><rect x="1264.73" y="491.4" width="1" height="1.3"/><rect x="1269.09" y="491.4" width="1" height="1.3"/><rect x="1273.45" y="491.4" width="1" height="1.3"/><rect x="1277.8" y="491.4" width="1" height="1.3"/><rect x="1282.16" y="491.4" width="1" height="1.3"/></g>
<path d="M630.4,310.4 L697.6,288.8 A36.3,36.3 0 1 0 630.4,310.4 Z" fill="#f08870" opacity="0.3"/>
<path d="M630.4,310.4 L697.6,288.8 A36.3,36.3 0 0 1 630.4,310.4 Z" fill="#8080c8" opacity="0.3"/>
<text x="719" y="307.2" font-size="52" font-weight="bold" font-family="Liberation Sans, sans-serif" fill="#333" opacity="0.2" transform="translate(719,0) scale(0.885,1) translate(-719,0)">Dune</text>
<g opacity="0.16"><g transform="translate(43,9.6) rotate(30.5)"><path d="M8.2,-6.6 A10.5,10.5 0 1 0 10.5,1.5" fill="none" stroke="#b8c0c8" stroke-width="5"/><rect x="0.5" y="-1.5" width="8" height="8" fill="#b8c0c8"/><text x="16.5" y="9" font-size="26" letter-spacing="1.6" font-weight="bold" font-family="Liberation Sans, sans-serif" fill="#b8c0c8">Gate Learn</text></g>
<g transform="translate(281.9,9.6) rotate(30.5)"><path d="M8.2,-6.6 A10.5,10.5 0 1 0 10.5,1.5" fill="none" stroke="#b8c0c8" stroke-width="5"/><rect x="0.5" y="-1.5" width="8" height="8" fill="#b8c0c8"/><text x="16.5" y="9" font-size="26" letter-spacing="1.6" font-weight="bold" font-family="Liberation Sans, sans-serif" fill="#b8c0c8">Gate Learn</text></g>
<g transform="translate(520.8,9.6) rotate(30.5)"><path d="M8.2,-6.6 A10.5,10.5 0 1 0 10.5,1.5" fill="none" stroke="#b8c0c8" stroke-width="5"/><rect x="0.5" y="-1.5" width="8" height="8" fill="#b8c0c8"/><text x="16.5" y="9" font-size="26" letter-spacing="1.6" font-weight="bold" font-family="Liberation Sans, sans-serif" fill="#b8c0c8">Gate Learn</text></g>
<g transform="translate(759.7,9.6) rotate(30.5)"><path d="M8.2,-6.6 A10.5,10.5 0 1 0 10.5,1.5" fill="none" stroke="#b8c0c8" stroke-width="5"/><rect x="0.5" y="-1.5" width="8" height="8" fill="#b8c0c8"/><text x="16.5" y="9" font-size="26" letter-spacing="1.6" font-weight="bold" font-family="Liberation Sans, sans-serif" fill="#b8c0c8">Gate Learn</text></g>
<g transform="translate(998.6,9.6) rotate(30.5)"><path d="M8.2,-6.6 A10.5,10.5 0 1 0 10.5,1.5" fill="none" stroke="#b8c0c8" stroke-width="5"/><rect x="0.5" y="-1.5" width="8" height="8" fill="#b8c0c8"/><text x="16.5" y="9" font-size="26" letter-spacing="1.6" font-weight="bold" font-family="Liberation Sans, sans-serif" fill="#b8c0c8">Gate Learn</text></g>
<g transform="translate(1237.5,9.6) rotate(30.5)"><path d="M8.2,-6.6 A10.5,10.5 0 1 0 10.5,1.5" fill="none" stroke="#b8c0c8" stroke-width="5"/><rect x="0.5" y="-1.5" width="8" height="8" fill="#b8c0c8"/><text x="16.5" y="9" font-size="26" letter-spacing="1.6" font-weight="bold" font-family="Liberation Sans, sans-serif" fill="#b8c0c8">Gate Learn</text></g>
<g transform="translate(43,245.4) rotate(30.5)"><path d="M8.2,-6.6 A10.5,10.5 0 1 0 10.5,1.5" fill="none" stroke="#b8c0c8" stroke-width="5"/><rect x="0.5" y="-1.5" width="8" height="8" fill="#b8c0c8"/><text x="16.5" y="9" font-size="26" letter-spacing="1.6" font-weight="bold" font-family="Liberation Sans, sans-serif" fill="#b8c0c8">Gate Learn</text></g>
<g transform="translate(281.9,245.4) rotate(30.5)"><path d="M8.2,-6.6 A10.5,10.5 0 1 0 10.5,1.5" fill="none" stroke="#b8c0c8" stroke-width="5"/><rect x="0.5" y="-1.5" width="8" height="8" fill="#b8c0c8"/><text x="16.5" y="9" font-size="26" letter-spacing="1.6" font-weight="bold" font-family="Liberation Sans, sans-serif" fill="#b8c0c8">Gate Learn</text></g>
<g transform="translate(520.8,245.4) rotate(30.5)"><path d="M8.2,-6.6 A10.5,10.5 0 1 0 10.5,1.5" fill="none" stroke="#b8c0c8" stroke-width="5"/><rect x="0.5" y="-1.5" width="8" height="8" fill="#b8c0c8"/><text x="16.5" y="9" font-size="26" letter-spacing="1.6" font-weight="bold" font-family="Liberation Sans, sans-serif" fill="#b8c0c8">Gate Learn</text></g>
<g transform="translate(759.7,245.4) rotate(30.5)"><path d="M8.2,-6.6 A10.5,10.5 0 1 0 10.5,1.5" fill="none" stroke="#b8c0c8" stroke-width="5"/><rect x="0.5" y="-1.5" width="8" height="8" fill="#b8c0c8"/><text x="16.5" y="9" font-size="26" letter-spacing="1.6" font-weight="bold" font-family="Liberation Sans, sans-serif" fill="#b8c0c8">Gate Learn</text></g>
<g transform="translate(998.6,245.4) rotate(30.5)"><path d="M8.2,-6.6 A10.5,10.5 0 1 0 10.5,1.5" fill="none" stroke="#b8c0c8" stroke-width="5"/><rect x="0.5" y="-1.5" width="8" height="8" fill="#b8c0c8"/><text x="16.5" y="9" font-size="26" letter-spacing="1.6" font-weight="bold" font-family="Liberation Sans, sans-serif" fill="#b8c0c8">Gate Learn</text></g>
<g transform="translate(1237.5,245.4) rotate(30.5)"><path d="M8.2,-6.6 A10.5,10.5 0 1 0 10.5,1.5" fill="none" stroke="#b8c0c8" stroke-width="5"/><rect x="0.5" y="-1.5" width="8" height="8" fill="#b8c0c8"/><text x="16.5" y="9" font-size="26" letter-spacing="1.6" font-weight="bold" font-family="Liberation Sans, sans-serif" fill="#b8c0c8">Gate Learn</text></g>
<g transform="translate(43,481.2) rotate(30.5)"><path d="M8.2,-6.6 A10.5,10.5 0 1 0 10.5,1.5" fill="none" stroke="#b8c0c8" stroke-width="5"/><rect x="0.5" y="-1.5" width="8" height="8" fill="#b8c0c8"/><text x="16.5" y="9" font-size="26" letter-spacing="1.6" font-weight="bold" font-family="Liberation Sans, sans-serif" fill="#b8c0c8">Gate Learn</text></g>
<g transform="translate(281.9,481.2) rotate(30.5)"><path d="M8.2,-6.6 A10.5,10.5 0 1 0 10.5,1.5" fill="none" stroke="#b8c0c8" stroke-width="5"/><rect x="0.5" y="-1.5" width="8" height="8" fill="#b8c0c8"/><text x="16.5" y="9" font-size="26" letter-spacing="1.6" font-weight="bold" font-family="Liberation Sans, sans-serif" fill="#b8c0c8">Gate Learn</text></g>
<g transform="translate(520.8,481.2) rotate(30.5)"><path d="M8.2,-6.6 A10.5,10.5 0 1 0 10.5,1.5" fill="none" stroke="#b8c0c8" stroke-width="5"/><rect x="0.5" y="-1.5" width="8" height="8" fill="#b8c0c8"/><text x="16.5" y="9" font-size="26" letter-spacing="1.6" font-weight="bold" font-family="Liberation Sans, sans-serif" fill="#b8c0c8">Gate Learn</text></g>
<g transform="translate(759.7,481.2) rotate(30.5)"><path d="M8.2,-6.6 A10.5,10.5 0 1 0 10.5,1.5" fill="none" stroke="#b8c0c8" stroke-width="5"/><rect x="0.5" y="-1.5" width="8" height="8" fill="#b8c0c8"/><text x="16.5" y="9" font-size="26" letter-spacing="1.6" font-weight="bold" font-family="Liberation Sans, sans-serif" fill="#b8c0c8">Gate Learn</text></g>
<g transform="translate(998.6,481.2) rotate(30.5)"><path d="M8.2,-6.6 A10.5,10.5 0 1 0 10.5,1.5" fill="none" stroke="#b8c0c8" stroke-width="5"/><rect x="0.5" y="-1.5" width="8" height="8" fill="#b8c0c8"/><text x="16.5" y="9" font-size="26" letter-spacing="1.6" font-weight="bold" font-family="Liberation Sans, sans-serif" fill="#b8c0c8">Gate Learn</text></g>
<g transform="translate(1237.5,481.2) rotate(30.5)"><path d="M8.2,-6.6 A10.5,10.5 0 1 0 10.5,1.5" fill="none" stroke="#b8c0c8" stroke-width="5"/><rect x="0.5" y="-1.5" width="8" height="8" fill="#b8c0c8"/><text x="16.5" y="9" font-size="26" letter-spacing="1.6" font-weight="bold" font-family="Liberation Sans, sans-serif" fill="#b8c0c8">Gate Learn</text></g></g>
</svg>
<div class="xl" style="left:45.38px">2023..2-17</div>
<div class="xl" style="left:136.88px">2023..3-10</div>
<div class="xl" style="left:228.37px">2023..3-31</div>
<div class="xl" style="left:319.87px">2023..4-21</div>
<div class="xl" style="left:411.37px">2023..5-12</div>
<div class="xl" style="left:502.86px">2023..6-02</div>
<div class="xl" style="left:594.36px">2023..6-23</div>
<div class="xl" style="left:685.86px">2023..7-14</div>
<div class="xl" style="left:777.35px">2023..8-04</div>
<div class="xl" style="left:868.85px">2023..8-25</div>
<div class="xl" style="left:960.35px">2023..9-15</div>
<div class="xl" style="left:1051.85px">2023..0-06</div>
<div class="xl" style="left:1143.34px">2023..0-27</div>
<div class="lg" style="left:1107.3px;top:252.5px;letter-spacing:0.45px">regular_tx_Fee</div>
<div class="lg" style="left:1108.4px;top:273.3px;letter-spacing:0.62px">Inscriptions_exclu</div>
<div class="lg" style="left:1106.8px;top:294px;letter-spacing:0.26px">BRC-20 Fee %</div>
<div class="dot" style="left:1411.9px;top:254.5px;background:#8f8f8f"></div>
<div class="dot" style="left:1411.9px;top:274.7px;background:#f25c33"></div>
<div class="dot" style="left:1411.9px;top:295.6px;background:#5252a0"></div>
<svg width="20" height="20" style="left:25.65px;top:515.8px" viewBox="0 0 20 20"><circle cx="10" cy="10" r="6.6" fill="#f0961c"/><ellipse cx="9.9" cy="11.3" rx="2.3" ry="4" fill="#b9a07c"/><path d="M8.2,9 h3.4 v3 h-3.4z" fill="#6e6656" opacity="0.6"/><circle cx="9.75" cy="6.1" r="1.1" fill="#222"/></svg>
<div class="jg" style="position:absolute;left:46px;top:519.9px;font-size:12px;line-height:12px;letter-spacing:-0.25px;color:#595959;white-space:nowrap">@Jingle</div>
<div style="position:absolute;left:1392.8px;top:518px;width:33.2px;height:17px;border-radius:3px;background:#def5e8;overflow:hidden"><span style="position:absolute;left:4px;top:2.5px;font-size:12px;line-height:12px;letter-spacing:0.4px;color:#1c9f5c;white-space:nowrap">7d &#8964;</span></div>
<div style="position:absolute;left:1417.25px;top:498.25px;width:43.5px;height:43.5px;border-radius:50%;background:#fcfcfc;box-shadow:0 0 3px rgba(0,0,0,0.13);clip-path:inset(-10px 34.75px -10px -10px)"></div>
</body></html>
